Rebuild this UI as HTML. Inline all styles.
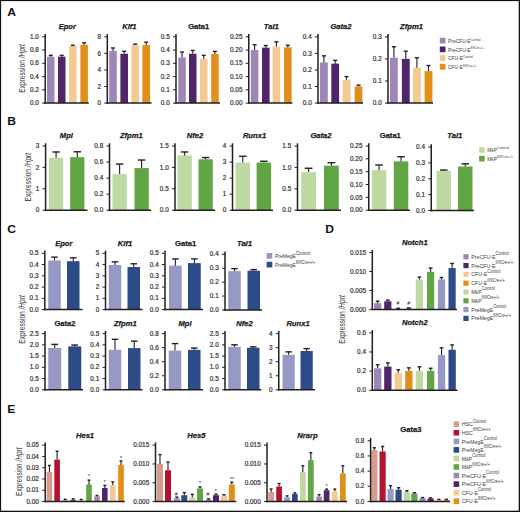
<!DOCTYPE html>
<html><head><meta charset="utf-8"><title>Figure</title>
<style>
html,body{margin:0;padding:0;background:#fff;}
body{width:520px;height:512px;overflow:hidden;font-family:"Liberation Sans",sans-serif;}
svg{display:block;}
</style></head><body>
<svg width="520" height="512" viewBox="0 0 520 512"><rect width="520" height="512" fill="#fff"/><text transform="translate(7.3 16.3) scale(1.1 1)" font-size="11" font-weight="bold" fill="#111" font-family="Liberation Sans">A</text><rect x="47" y="56.69" width="7.5" height="46.41" fill="#9d87b6"/><line x1="50.75" y1="56.69" x2="50.75" y2="55.36" stroke="#231f20" stroke-width="1.1"/><line x1="48.8" y1="55.36" x2="52.7" y2="55.36" stroke="#231f20" stroke-width="1.4"/><rect x="58" y="56.69" width="7.5" height="46.41" fill="#4f2468"/><line x1="61.75" y1="56.69" x2="61.75" y2="55.36" stroke="#231f20" stroke-width="1.1"/><line x1="59.8" y1="55.36" x2="63.7" y2="55.36" stroke="#231f20" stroke-width="1.4"/><rect x="69.1" y="46.08" width="7.5" height="57.02" fill="#f2ca92"/><line x1="72.85" y1="46.08" x2="72.85" y2="45.29" stroke="#231f20" stroke-width="1.1"/><line x1="70.9" y1="45.29" x2="74.8" y2="45.29" stroke="#231f20" stroke-width="1.4"/><rect x="80.4" y="44.76" width="7.5" height="58.34" fill="#e18e1a"/><line x1="84.15" y1="44.76" x2="84.15" y2="42.77" stroke="#231f20" stroke-width="1.1"/><line x1="82.2" y1="42.77" x2="86.1" y2="42.77" stroke="#231f20" stroke-width="1.4"/><line x1="45.2" y1="34.1" x2="45.2" y2="103.8" stroke="#231f20" stroke-width="1.5"/><line x1="44.5" y1="103.1" x2="88.8" y2="103.1" stroke="#231f20" stroke-width="1.5"/><line x1="42.2" y1="103.1" x2="45.2" y2="103.1" stroke="#231f20" stroke-width="1"/><text transform="translate(38.9 105.25) scale(1 1)" font-size="6.4" text-anchor="end" fill="#2c2c2c" font-family="Liberation Sans" stroke="#2c2c2c" stroke-width="0.18">0.0</text><line x1="42.2" y1="89.84" x2="45.2" y2="89.84" stroke="#231f20" stroke-width="1"/><text transform="translate(38.9 91.99) scale(1 1)" font-size="6.4" text-anchor="end" fill="#2c2c2c" font-family="Liberation Sans" stroke="#2c2c2c" stroke-width="0.18">0.2</text><line x1="42.2" y1="76.58" x2="45.2" y2="76.58" stroke="#231f20" stroke-width="1"/><text transform="translate(38.9 78.73) scale(1 1)" font-size="6.4" text-anchor="end" fill="#2c2c2c" font-family="Liberation Sans" stroke="#2c2c2c" stroke-width="0.18">0.4</text><line x1="42.2" y1="63.32" x2="45.2" y2="63.32" stroke="#231f20" stroke-width="1"/><text transform="translate(38.9 65.47) scale(1 1)" font-size="6.4" text-anchor="end" fill="#2c2c2c" font-family="Liberation Sans" stroke="#2c2c2c" stroke-width="0.18">0.6</text><line x1="42.2" y1="50.06" x2="45.2" y2="50.06" stroke="#231f20" stroke-width="1"/><text transform="translate(38.9 52.21) scale(1 1)" font-size="6.4" text-anchor="end" fill="#2c2c2c" font-family="Liberation Sans" stroke="#2c2c2c" stroke-width="0.18">0.8</text><line x1="42.2" y1="36.8" x2="45.2" y2="36.8" stroke="#231f20" stroke-width="1"/><text transform="translate(38.9 38.95) scale(1 1)" font-size="6.4" text-anchor="end" fill="#2c2c2c" font-family="Liberation Sans" stroke="#2c2c2c" stroke-width="0.18">1.0</text><text x="67.3" y="28.8" font-size="7.6" text-anchor="middle" font-weight="bold" font-style="italic" fill="#1a1a1a" font-family="Liberation Sans" stroke="#1a1a1a" stroke-width="0.25">Epor</text><rect x="109.2" y="50.89" width="7.6" height="52.21" fill="#9d87b6"/><line x1="113" y1="50.89" x2="113" y2="47.99" stroke="#231f20" stroke-width="1.1"/><line x1="111.02" y1="47.99" x2="114.98" y2="47.99" stroke="#231f20" stroke-width="1.4"/><rect x="120.4" y="53.79" width="7.6" height="49.31" fill="#4f2468"/><line x1="124.2" y1="53.79" x2="124.2" y2="51.3" stroke="#231f20" stroke-width="1.1"/><line x1="122.22" y1="51.3" x2="126.18" y2="51.3" stroke="#231f20" stroke-width="1.4"/><rect x="131.4" y="45.09" width="7.6" height="58.01" fill="#f2ca92"/><line x1="135.2" y1="45.09" x2="135.2" y2="44.09" stroke="#231f20" stroke-width="1.1"/><line x1="133.22" y1="44.09" x2="137.18" y2="44.09" stroke="#231f20" stroke-width="1.4"/><rect x="142.4" y="45.09" width="7.6" height="58.01" fill="#e18e1a"/><line x1="146.2" y1="45.09" x2="146.2" y2="42.19" stroke="#231f20" stroke-width="1.1"/><line x1="144.22" y1="42.19" x2="148.18" y2="42.19" stroke="#231f20" stroke-width="1.4"/><line x1="107.3" y1="34.1" x2="107.3" y2="103.8" stroke="#231f20" stroke-width="1.5"/><line x1="106.6" y1="103.1" x2="151.5" y2="103.1" stroke="#231f20" stroke-width="1.5"/><line x1="104.3" y1="103.1" x2="107.3" y2="103.1" stroke="#231f20" stroke-width="1"/><text transform="translate(101 105.25) scale(1 1)" font-size="6.4" text-anchor="end" fill="#2c2c2c" font-family="Liberation Sans" stroke="#2c2c2c" stroke-width="0.18">0</text><line x1="104.3" y1="86.52" x2="107.3" y2="86.52" stroke="#231f20" stroke-width="1"/><text transform="translate(101 88.67) scale(1 1)" font-size="6.4" text-anchor="end" fill="#2c2c2c" font-family="Liberation Sans" stroke="#2c2c2c" stroke-width="0.18">2</text><line x1="104.3" y1="69.95" x2="107.3" y2="69.95" stroke="#231f20" stroke-width="1"/><text transform="translate(101 72.1) scale(1 1)" font-size="6.4" text-anchor="end" fill="#2c2c2c" font-family="Liberation Sans" stroke="#2c2c2c" stroke-width="0.18">4</text><line x1="104.3" y1="53.38" x2="107.3" y2="53.38" stroke="#231f20" stroke-width="1"/><text transform="translate(101 55.52) scale(1 1)" font-size="6.4" text-anchor="end" fill="#2c2c2c" font-family="Liberation Sans" stroke="#2c2c2c" stroke-width="0.18">6</text><line x1="104.3" y1="36.8" x2="107.3" y2="36.8" stroke="#231f20" stroke-width="1"/><text transform="translate(101 38.95) scale(1 1)" font-size="6.4" text-anchor="end" fill="#2c2c2c" font-family="Liberation Sans" stroke="#2c2c2c" stroke-width="0.18">8</text><text x="129.4" y="28.8" font-size="7.6" text-anchor="middle" font-weight="bold" font-style="italic" fill="#1a1a1a" font-family="Liberation Sans" stroke="#1a1a1a" stroke-width="0.25">Klf1</text><rect x="178.3" y="57.35" width="7.5" height="45.75" fill="#9d87b6"/><line x1="182.05" y1="57.35" x2="182.05" y2="52.05" stroke="#231f20" stroke-width="1.1"/><line x1="180.1" y1="52.05" x2="184" y2="52.05" stroke="#231f20" stroke-width="1.4"/><rect x="189" y="53.77" width="7.5" height="49.33" fill="#4f2468"/><line x1="192.75" y1="53.77" x2="192.75" y2="50.46" stroke="#231f20" stroke-width="1.1"/><line x1="190.8" y1="50.46" x2="194.7" y2="50.46" stroke="#231f20" stroke-width="1.4"/><rect x="200" y="58.68" width="7.5" height="44.42" fill="#f2ca92"/><line x1="203.75" y1="58.68" x2="203.75" y2="55.36" stroke="#231f20" stroke-width="1.1"/><line x1="201.8" y1="55.36" x2="205.7" y2="55.36" stroke="#231f20" stroke-width="1.4"/><rect x="211.2" y="54.04" width="7.5" height="49.06" fill="#e18e1a"/><line x1="214.95" y1="54.04" x2="214.95" y2="51.39" stroke="#231f20" stroke-width="1.1"/><line x1="213" y1="51.39" x2="216.9" y2="51.39" stroke="#231f20" stroke-width="1.4"/><line x1="176" y1="34.1" x2="176" y2="103.8" stroke="#231f20" stroke-width="1.5"/><line x1="175.3" y1="103.1" x2="220" y2="103.1" stroke="#231f20" stroke-width="1.5"/><line x1="173" y1="103.1" x2="176" y2="103.1" stroke="#231f20" stroke-width="1"/><text transform="translate(169.7 105.25) scale(1 1)" font-size="6.4" text-anchor="end" fill="#2c2c2c" font-family="Liberation Sans" stroke="#2c2c2c" stroke-width="0.18">0.0</text><line x1="173" y1="89.84" x2="176" y2="89.84" stroke="#231f20" stroke-width="1"/><text transform="translate(169.7 91.99) scale(1 1)" font-size="6.4" text-anchor="end" fill="#2c2c2c" font-family="Liberation Sans" stroke="#2c2c2c" stroke-width="0.18">0.1</text><line x1="173" y1="76.58" x2="176" y2="76.58" stroke="#231f20" stroke-width="1"/><text transform="translate(169.7 78.73) scale(1 1)" font-size="6.4" text-anchor="end" fill="#2c2c2c" font-family="Liberation Sans" stroke="#2c2c2c" stroke-width="0.18">0.2</text><line x1="173" y1="63.32" x2="176" y2="63.32" stroke="#231f20" stroke-width="1"/><text transform="translate(169.7 65.47) scale(1 1)" font-size="6.4" text-anchor="end" fill="#2c2c2c" font-family="Liberation Sans" stroke="#2c2c2c" stroke-width="0.18">0.3</text><line x1="173" y1="50.06" x2="176" y2="50.06" stroke="#231f20" stroke-width="1"/><text transform="translate(169.7 52.21) scale(1 1)" font-size="6.4" text-anchor="end" fill="#2c2c2c" font-family="Liberation Sans" stroke="#2c2c2c" stroke-width="0.18">0.4</text><line x1="173" y1="36.8" x2="176" y2="36.8" stroke="#231f20" stroke-width="1"/><text transform="translate(169.7 38.95) scale(1 1)" font-size="6.4" text-anchor="end" fill="#2c2c2c" font-family="Liberation Sans" stroke="#2c2c2c" stroke-width="0.18">0.5</text><text x="198.7" y="28.8" font-size="7.6" text-anchor="middle" font-weight="bold" font-style="normal" fill="#1a1a1a" font-family="Liberation Sans" stroke="#1a1a1a" stroke-width="0.25">Gata1</text><rect x="250.8" y="50.06" width="7.6" height="53.04" fill="#9d87b6"/><line x1="254.6" y1="50.06" x2="254.6" y2="44.76" stroke="#231f20" stroke-width="1.1"/><line x1="252.62" y1="44.76" x2="256.58" y2="44.76" stroke="#231f20" stroke-width="1.4"/><rect x="262" y="47.67" width="7.6" height="55.43" fill="#4f2468"/><line x1="265.8" y1="47.67" x2="265.8" y2="45.55" stroke="#231f20" stroke-width="1.1"/><line x1="263.82" y1="45.55" x2="267.78" y2="45.55" stroke="#231f20" stroke-width="1.4"/><rect x="272.6" y="46.61" width="7.6" height="56.49" fill="#f2ca92"/><line x1="276.4" y1="46.61" x2="276.4" y2="41.84" stroke="#231f20" stroke-width="1.1"/><line x1="274.42" y1="41.84" x2="278.38" y2="41.84" stroke="#231f20" stroke-width="1.4"/><rect x="284" y="47.41" width="7.6" height="55.69" fill="#e18e1a"/><line x1="287.8" y1="47.41" x2="287.8" y2="45.29" stroke="#231f20" stroke-width="1.1"/><line x1="285.82" y1="45.29" x2="289.78" y2="45.29" stroke="#231f20" stroke-width="1.4"/><line x1="248.75" y1="34.1" x2="248.75" y2="103.8" stroke="#231f20" stroke-width="1.5"/><line x1="248.05" y1="103.1" x2="292.3" y2="103.1" stroke="#231f20" stroke-width="1.5"/><line x1="245.75" y1="103.1" x2="248.75" y2="103.1" stroke="#231f20" stroke-width="1"/><text transform="translate(242.45 105.25) scale(1 1)" font-size="6.4" text-anchor="end" fill="#2c2c2c" font-family="Liberation Sans" stroke="#2c2c2c" stroke-width="0.18">0.00</text><line x1="245.75" y1="89.84" x2="248.75" y2="89.84" stroke="#231f20" stroke-width="1"/><text transform="translate(242.45 91.99) scale(1 1)" font-size="6.4" text-anchor="end" fill="#2c2c2c" font-family="Liberation Sans" stroke="#2c2c2c" stroke-width="0.18">0.05</text><line x1="245.75" y1="76.58" x2="248.75" y2="76.58" stroke="#231f20" stroke-width="1"/><text transform="translate(242.45 78.73) scale(1 1)" font-size="6.4" text-anchor="end" fill="#2c2c2c" font-family="Liberation Sans" stroke="#2c2c2c" stroke-width="0.18">0.10</text><line x1="245.75" y1="63.32" x2="248.75" y2="63.32" stroke="#231f20" stroke-width="1"/><text transform="translate(242.45 65.47) scale(1 1)" font-size="6.4" text-anchor="end" fill="#2c2c2c" font-family="Liberation Sans" stroke="#2c2c2c" stroke-width="0.18">0.15</text><line x1="245.75" y1="50.06" x2="248.75" y2="50.06" stroke="#231f20" stroke-width="1"/><text transform="translate(242.45 52.21) scale(1 1)" font-size="6.4" text-anchor="end" fill="#2c2c2c" font-family="Liberation Sans" stroke="#2c2c2c" stroke-width="0.18">0.20</text><line x1="245.75" y1="36.8" x2="248.75" y2="36.8" stroke="#231f20" stroke-width="1"/><text transform="translate(242.45 38.95) scale(1 1)" font-size="6.4" text-anchor="end" fill="#2c2c2c" font-family="Liberation Sans" stroke="#2c2c2c" stroke-width="0.18">0.25</text><text x="271.3" y="28.8" font-size="7.6" text-anchor="middle" font-weight="bold" font-style="italic" fill="#1a1a1a" font-family="Liberation Sans" stroke="#1a1a1a" stroke-width="0.25">Tal1</text><rect x="320" y="62.49" width="7.8" height="40.61" fill="#9d87b6"/><line x1="323.9" y1="62.49" x2="323.9" y2="55.86" stroke="#231f20" stroke-width="1.1"/><line x1="321.87" y1="55.86" x2="325.93" y2="55.86" stroke="#231f20" stroke-width="1.4"/><rect x="331.3" y="63.65" width="7.8" height="39.45" fill="#4f2468"/><line x1="335.2" y1="63.65" x2="335.2" y2="60.34" stroke="#231f20" stroke-width="1.1"/><line x1="333.17" y1="60.34" x2="337.23" y2="60.34" stroke="#231f20" stroke-width="1.4"/><rect x="342.6" y="79.89" width="7.8" height="23.2" fill="#f2ca92"/><line x1="346.5" y1="79.89" x2="346.5" y2="76.58" stroke="#231f20" stroke-width="1.1"/><line x1="344.47" y1="76.58" x2="348.53" y2="76.58" stroke="#231f20" stroke-width="1.4"/><rect x="354.6" y="86.52" width="7.8" height="16.58" fill="#e18e1a"/><line x1="358.5" y1="86.52" x2="358.5" y2="85.2" stroke="#231f20" stroke-width="1.1"/><line x1="356.47" y1="85.2" x2="360.53" y2="85.2" stroke="#231f20" stroke-width="1.4"/><line x1="318" y1="34.1" x2="318" y2="103.8" stroke="#231f20" stroke-width="1.5"/><line x1="317.3" y1="103.1" x2="363" y2="103.1" stroke="#231f20" stroke-width="1.5"/><line x1="315" y1="103.1" x2="318" y2="103.1" stroke="#231f20" stroke-width="1"/><text transform="translate(311.7 105.25) scale(1 1)" font-size="6.4" text-anchor="end" fill="#2c2c2c" font-family="Liberation Sans" stroke="#2c2c2c" stroke-width="0.18">0.0</text><line x1="315" y1="86.52" x2="318" y2="86.52" stroke="#231f20" stroke-width="1"/><text transform="translate(311.7 88.67) scale(1 1)" font-size="6.4" text-anchor="end" fill="#2c2c2c" font-family="Liberation Sans" stroke="#2c2c2c" stroke-width="0.18">0.1</text><line x1="315" y1="69.95" x2="318" y2="69.95" stroke="#231f20" stroke-width="1"/><text transform="translate(311.7 72.1) scale(1 1)" font-size="6.4" text-anchor="end" fill="#2c2c2c" font-family="Liberation Sans" stroke="#2c2c2c" stroke-width="0.18">0.2</text><line x1="315" y1="53.38" x2="318" y2="53.38" stroke="#231f20" stroke-width="1"/><text transform="translate(311.7 55.53) scale(1 1)" font-size="6.4" text-anchor="end" fill="#2c2c2c" font-family="Liberation Sans" stroke="#2c2c2c" stroke-width="0.18">0.3</text><line x1="315" y1="36.8" x2="318" y2="36.8" stroke="#231f20" stroke-width="1"/><text transform="translate(311.7 38.95) scale(1 1)" font-size="6.4" text-anchor="end" fill="#2c2c2c" font-family="Liberation Sans" stroke="#2c2c2c" stroke-width="0.18">0.4</text><text x="341" y="28.8" font-size="7.6" text-anchor="middle" font-weight="bold" font-style="italic" fill="#1a1a1a" font-family="Liberation Sans" stroke="#1a1a1a" stroke-width="0.25">Gata2</text><rect x="390" y="57.79" width="7.8" height="45.3" fill="#9d87b6"/><line x1="393.9" y1="57.79" x2="393.9" y2="46.74" stroke="#231f20" stroke-width="1.1"/><line x1="391.87" y1="46.74" x2="395.93" y2="46.74" stroke="#231f20" stroke-width="1.4"/><rect x="401.9" y="58.9" width="7.8" height="44.2" fill="#4f2468"/><line x1="405.8" y1="58.9" x2="405.8" y2="51.16" stroke="#231f20" stroke-width="1.1"/><line x1="403.77" y1="51.16" x2="407.83" y2="51.16" stroke="#231f20" stroke-width="1.4"/><rect x="413" y="67.74" width="7.8" height="35.36" fill="#f2ca92"/><line x1="416.9" y1="67.74" x2="416.9" y2="57.79" stroke="#231f20" stroke-width="1.1"/><line x1="414.87" y1="57.79" x2="418.93" y2="57.79" stroke="#231f20" stroke-width="1.4"/><rect x="424.6" y="71.06" width="7.8" height="32.04" fill="#e18e1a"/><line x1="428.5" y1="71.06" x2="428.5" y2="65.53" stroke="#231f20" stroke-width="1.1"/><line x1="426.47" y1="65.53" x2="430.53" y2="65.53" stroke="#231f20" stroke-width="1.4"/><line x1="388" y1="34.1" x2="388" y2="103.8" stroke="#231f20" stroke-width="1.5"/><line x1="387.3" y1="103.1" x2="433" y2="103.1" stroke="#231f20" stroke-width="1.5"/><line x1="385" y1="103.1" x2="388" y2="103.1" stroke="#231f20" stroke-width="1"/><text transform="translate(381.7 105.25) scale(1 1)" font-size="6.4" text-anchor="end" fill="#2c2c2c" font-family="Liberation Sans" stroke="#2c2c2c" stroke-width="0.18">0.0</text><line x1="385" y1="81" x2="388" y2="81" stroke="#231f20" stroke-width="1"/><text transform="translate(381.7 83.15) scale(1 1)" font-size="6.4" text-anchor="end" fill="#2c2c2c" font-family="Liberation Sans" stroke="#2c2c2c" stroke-width="0.18">0.1</text><line x1="385" y1="58.9" x2="388" y2="58.9" stroke="#231f20" stroke-width="1"/><text transform="translate(381.7 61.05) scale(1 1)" font-size="6.4" text-anchor="end" fill="#2c2c2c" font-family="Liberation Sans" stroke="#2c2c2c" stroke-width="0.18">0.2</text><line x1="385" y1="36.8" x2="388" y2="36.8" stroke="#231f20" stroke-width="1"/><text transform="translate(381.7 38.95) scale(1 1)" font-size="6.4" text-anchor="end" fill="#2c2c2c" font-family="Liberation Sans" stroke="#2c2c2c" stroke-width="0.18">0.3</text><text x="411.5" y="28.8" font-size="7.6" text-anchor="middle" font-weight="bold" font-style="italic" fill="#1a1a1a" font-family="Liberation Sans" stroke="#1a1a1a" stroke-width="0.25">Zfpm1</text><text transform="translate(24.9 68.4) rotate(-90)" font-size="8.6" text-anchor="middle" fill="#3a3a3a" font-family="Liberation Sans" textLength="48.5" lengthAdjust="spacingAndGlyphs">Expression <tspan font-style="italic">/Hprt</tspan></text><rect x="439.8" y="37.8" width="5.7" height="5.7" fill="#9d87b6"/><text transform="translate(448.1 42.9) scale(0.87 1)" font-size="5.6" fill="#3a3a3a" font-family="Liberation Sans">PreCFU-E<tspan font-size="3.6" dy="-2.4">Control</tspan></text><rect x="439.8" y="46.5" width="5.7" height="5.7" fill="#4f2468"/><text transform="translate(448.1 51.6) scale(0.87 1)" font-size="5.6" fill="#3a3a3a" font-family="Liberation Sans">PreCFU-E<tspan font-size="3.6" dy="-2.4">fl/flCre+/+</tspan></text><rect x="439.8" y="55.2" width="5.7" height="5.7" fill="#f2ca92"/><text transform="translate(448.1 60.3) scale(0.87 1)" font-size="5.6" fill="#3a3a3a" font-family="Liberation Sans">CFU-E<tspan font-size="3.6" dy="-2.4">Control</tspan></text><rect x="439.8" y="63.9" width="5.7" height="5.7" fill="#e18e1a"/><text transform="translate(448.1 69) scale(0.87 1)" font-size="5.6" fill="#3a3a3a" font-family="Liberation Sans">CFU-E<tspan font-size="3.6" dy="-2.4">fl/flCre+/+</tspan></text><text transform="translate(7.3 125.2) scale(1.1 1)" font-size="11" font-weight="bold" fill="#111" font-family="Liberation Sans">B</text><rect x="49" y="157.77" width="14.2" height="52.43" fill="#bfd9a2"/><line x1="56.1" y1="157.77" x2="56.1" y2="151.99" stroke="#231f20" stroke-width="1.1"/><line x1="52.41" y1="151.99" x2="59.79" y2="151.99" stroke="#231f20" stroke-width="1.4"/><rect x="70.2" y="157.13" width="14.2" height="53.07" fill="#62a544"/><line x1="77.3" y1="157.13" x2="77.3" y2="151.78" stroke="#231f20" stroke-width="1.1"/><line x1="73.61" y1="151.78" x2="80.99" y2="151.78" stroke="#231f20" stroke-width="1.4"/><line x1="45.6" y1="143.3" x2="45.6" y2="210.9" stroke="#231f20" stroke-width="1.5"/><line x1="44.9" y1="210.2" x2="87.5" y2="210.2" stroke="#231f20" stroke-width="1.5"/><line x1="42.6" y1="210.2" x2="45.6" y2="210.2" stroke="#231f20" stroke-width="1"/><text transform="translate(39.3 212.35) scale(1 1)" font-size="6.4" text-anchor="end" fill="#2c2c2c" font-family="Liberation Sans" stroke="#2c2c2c" stroke-width="0.18">0</text><line x1="42.6" y1="188.8" x2="45.6" y2="188.8" stroke="#231f20" stroke-width="1"/><text transform="translate(39.3 190.95) scale(1 1)" font-size="6.4" text-anchor="end" fill="#2c2c2c" font-family="Liberation Sans" stroke="#2c2c2c" stroke-width="0.18">1</text><line x1="42.6" y1="167.4" x2="45.6" y2="167.4" stroke="#231f20" stroke-width="1"/><text transform="translate(39.3 169.55) scale(1 1)" font-size="6.4" text-anchor="end" fill="#2c2c2c" font-family="Liberation Sans" stroke="#2c2c2c" stroke-width="0.18">2</text><line x1="42.6" y1="146" x2="45.6" y2="146" stroke="#231f20" stroke-width="1"/><text transform="translate(39.3 148.15) scale(1 1)" font-size="6.4" text-anchor="end" fill="#2c2c2c" font-family="Liberation Sans" stroke="#2c2c2c" stroke-width="0.18">3</text><text x="66.4" y="138" font-size="7.6" text-anchor="middle" font-weight="bold" font-style="italic" fill="#1a1a1a" font-family="Liberation Sans" stroke="#1a1a1a" stroke-width="0.25">Mpl</text><rect x="112.5" y="174.09" width="14.25" height="36.11" fill="#bfd9a2"/><line x1="119.62" y1="174.09" x2="119.62" y2="164.06" stroke="#231f20" stroke-width="1.1"/><line x1="115.92" y1="164.06" x2="123.33" y2="164.06" stroke="#231f20" stroke-width="1.4"/><rect x="134.5" y="168.07" width="14.25" height="42.13" fill="#62a544"/><line x1="141.62" y1="168.07" x2="141.62" y2="160.04" stroke="#231f20" stroke-width="1.1"/><line x1="137.92" y1="160.04" x2="145.33" y2="160.04" stroke="#231f20" stroke-width="1.4"/><line x1="109.5" y1="143.3" x2="109.5" y2="210.9" stroke="#231f20" stroke-width="1.5"/><line x1="108.8" y1="210.2" x2="151" y2="210.2" stroke="#231f20" stroke-width="1.5"/><line x1="106.5" y1="210.2" x2="109.5" y2="210.2" stroke="#231f20" stroke-width="1"/><text transform="translate(103.2 212.35) scale(1 1)" font-size="6.4" text-anchor="end" fill="#2c2c2c" font-family="Liberation Sans" stroke="#2c2c2c" stroke-width="0.18">0.0</text><line x1="106.5" y1="194.15" x2="109.5" y2="194.15" stroke="#231f20" stroke-width="1"/><text transform="translate(103.2 196.3) scale(1 1)" font-size="6.4" text-anchor="end" fill="#2c2c2c" font-family="Liberation Sans" stroke="#2c2c2c" stroke-width="0.18">0.2</text><line x1="106.5" y1="178.1" x2="109.5" y2="178.1" stroke="#231f20" stroke-width="1"/><text transform="translate(103.2 180.25) scale(1 1)" font-size="6.4" text-anchor="end" fill="#2c2c2c" font-family="Liberation Sans" stroke="#2c2c2c" stroke-width="0.18">0.4</text><line x1="106.5" y1="162.05" x2="109.5" y2="162.05" stroke="#231f20" stroke-width="1"/><text transform="translate(103.2 164.2) scale(1 1)" font-size="6.4" text-anchor="end" fill="#2c2c2c" font-family="Liberation Sans" stroke="#2c2c2c" stroke-width="0.18">0.6</text><line x1="106.5" y1="146" x2="109.5" y2="146" stroke="#231f20" stroke-width="1"/><text transform="translate(103.2 148.15) scale(1 1)" font-size="6.4" text-anchor="end" fill="#2c2c2c" font-family="Liberation Sans" stroke="#2c2c2c" stroke-width="0.18">0.8</text><text x="131.3" y="138" font-size="7.6" text-anchor="middle" font-weight="bold" font-style="italic" fill="#1a1a1a" font-family="Liberation Sans" stroke="#1a1a1a" stroke-width="0.25">Zfpm1</text><rect x="177.5" y="155.42" width="14.25" height="54.78" fill="#bfd9a2"/><line x1="184.62" y1="155.42" x2="184.62" y2="151.99" stroke="#231f20" stroke-width="1.1"/><line x1="180.92" y1="151.99" x2="188.33" y2="151.99" stroke="#231f20" stroke-width="1.4"/><rect x="198.5" y="159.27" width="14.25" height="50.93" fill="#62a544"/><line x1="205.62" y1="159.27" x2="205.62" y2="157.56" stroke="#231f20" stroke-width="1.1"/><line x1="201.92" y1="157.56" x2="209.33" y2="157.56" stroke="#231f20" stroke-width="1.4"/><line x1="175" y1="143.3" x2="175" y2="210.9" stroke="#231f20" stroke-width="1.5"/><line x1="174.3" y1="210.2" x2="215" y2="210.2" stroke="#231f20" stroke-width="1.5"/><line x1="172" y1="210.2" x2="175" y2="210.2" stroke="#231f20" stroke-width="1"/><text transform="translate(168.7 212.35) scale(1 1)" font-size="6.4" text-anchor="end" fill="#2c2c2c" font-family="Liberation Sans" stroke="#2c2c2c" stroke-width="0.18">0.0</text><line x1="172" y1="188.8" x2="175" y2="188.8" stroke="#231f20" stroke-width="1"/><text transform="translate(168.7 190.95) scale(1 1)" font-size="6.4" text-anchor="end" fill="#2c2c2c" font-family="Liberation Sans" stroke="#2c2c2c" stroke-width="0.18">0.5</text><line x1="172" y1="167.4" x2="175" y2="167.4" stroke="#231f20" stroke-width="1"/><text transform="translate(168.7 169.55) scale(1 1)" font-size="6.4" text-anchor="end" fill="#2c2c2c" font-family="Liberation Sans" stroke="#2c2c2c" stroke-width="0.18">1.0</text><line x1="172" y1="146" x2="175" y2="146" stroke="#231f20" stroke-width="1"/><text transform="translate(168.7 148.15) scale(1 1)" font-size="6.4" text-anchor="end" fill="#2c2c2c" font-family="Liberation Sans" stroke="#2c2c2c" stroke-width="0.18">1.5</text><text x="195" y="138" font-size="7.6" text-anchor="middle" font-weight="bold" font-style="italic" fill="#1a1a1a" font-family="Liberation Sans" stroke="#1a1a1a" stroke-width="0.25">Nfe2</text><rect x="235.5" y="162.53" width="14.5" height="47.67" fill="#bfd9a2"/><line x1="242.75" y1="162.53" x2="242.75" y2="156.27" stroke="#231f20" stroke-width="1.1"/><line x1="238.98" y1="156.27" x2="246.52" y2="156.27" stroke="#231f20" stroke-width="1.4"/><rect x="256.6" y="162.53" width="14.5" height="47.67" fill="#62a544"/><line x1="263.85" y1="162.53" x2="263.85" y2="161.25" stroke="#231f20" stroke-width="1.1"/><line x1="260.08" y1="161.25" x2="267.62" y2="161.25" stroke="#231f20" stroke-width="1.4"/><line x1="232.5" y1="143.3" x2="232.5" y2="210.9" stroke="#231f20" stroke-width="1.5"/><line x1="231.8" y1="210.2" x2="273" y2="210.2" stroke="#231f20" stroke-width="1.5"/><line x1="229.5" y1="210.2" x2="232.5" y2="210.2" stroke="#231f20" stroke-width="1"/><text transform="translate(226.2 212.35) scale(1 1)" font-size="6.4" text-anchor="end" fill="#2c2c2c" font-family="Liberation Sans" stroke="#2c2c2c" stroke-width="0.18">0</text><line x1="229.5" y1="194.15" x2="232.5" y2="194.15" stroke="#231f20" stroke-width="1"/><text transform="translate(226.2 196.3) scale(1 1)" font-size="6.4" text-anchor="end" fill="#2c2c2c" font-family="Liberation Sans" stroke="#2c2c2c" stroke-width="0.18">1</text><line x1="229.5" y1="178.1" x2="232.5" y2="178.1" stroke="#231f20" stroke-width="1"/><text transform="translate(226.2 180.25) scale(1 1)" font-size="6.4" text-anchor="end" fill="#2c2c2c" font-family="Liberation Sans" stroke="#2c2c2c" stroke-width="0.18">2</text><line x1="229.5" y1="162.05" x2="232.5" y2="162.05" stroke="#231f20" stroke-width="1"/><text transform="translate(226.2 164.2) scale(1 1)" font-size="6.4" text-anchor="end" fill="#2c2c2c" font-family="Liberation Sans" stroke="#2c2c2c" stroke-width="0.18">3</text><line x1="229.5" y1="146" x2="232.5" y2="146" stroke="#231f20" stroke-width="1"/><text transform="translate(226.2 148.15) scale(1 1)" font-size="6.4" text-anchor="end" fill="#2c2c2c" font-family="Liberation Sans" stroke="#2c2c2c" stroke-width="0.18">4</text><text x="254.5" y="138" font-size="7.6" text-anchor="middle" font-weight="bold" font-style="italic" fill="#1a1a1a" font-family="Liberation Sans" stroke="#1a1a1a" stroke-width="0.25">Runx1</text><rect x="301.2" y="172.11" width="14.75" height="38.09" fill="#bfd9a2"/><line x1="308.57" y1="172.11" x2="308.57" y2="168.26" stroke="#231f20" stroke-width="1.1"/><line x1="304.74" y1="168.26" x2="312.41" y2="168.26" stroke="#231f20" stroke-width="1.4"/><rect x="324" y="165.69" width="14.75" height="44.51" fill="#62a544"/><line x1="331.38" y1="165.69" x2="331.38" y2="162.69" stroke="#231f20" stroke-width="1.1"/><line x1="327.54" y1="162.69" x2="335.21" y2="162.69" stroke="#231f20" stroke-width="1.4"/><line x1="297.5" y1="143.3" x2="297.5" y2="210.9" stroke="#231f20" stroke-width="1.5"/><line x1="296.8" y1="210.2" x2="341" y2="210.2" stroke="#231f20" stroke-width="1.5"/><line x1="294.5" y1="210.2" x2="297.5" y2="210.2" stroke="#231f20" stroke-width="1"/><text transform="translate(291.2 212.35) scale(1 1)" font-size="6.4" text-anchor="end" fill="#2c2c2c" font-family="Liberation Sans" stroke="#2c2c2c" stroke-width="0.18">0.0</text><line x1="294.5" y1="188.8" x2="297.5" y2="188.8" stroke="#231f20" stroke-width="1"/><text transform="translate(291.2 190.95) scale(1 1)" font-size="6.4" text-anchor="end" fill="#2c2c2c" font-family="Liberation Sans" stroke="#2c2c2c" stroke-width="0.18">0.5</text><line x1="294.5" y1="167.4" x2="297.5" y2="167.4" stroke="#231f20" stroke-width="1"/><text transform="translate(291.2 169.55) scale(1 1)" font-size="6.4" text-anchor="end" fill="#2c2c2c" font-family="Liberation Sans" stroke="#2c2c2c" stroke-width="0.18">1.0</text><line x1="294.5" y1="146" x2="297.5" y2="146" stroke="#231f20" stroke-width="1"/><text transform="translate(291.2 148.15) scale(1 1)" font-size="6.4" text-anchor="end" fill="#2c2c2c" font-family="Liberation Sans" stroke="#2c2c2c" stroke-width="0.18">1.5</text><text x="321" y="138" font-size="7.6" text-anchor="middle" font-weight="bold" font-style="italic" fill="#1a1a1a" font-family="Liberation Sans" stroke="#1a1a1a" stroke-width="0.25">Gata2</text><rect x="371.8" y="170.14" width="14.5" height="40.06" fill="#bfd9a2"/><line x1="379.05" y1="170.14" x2="379.05" y2="165" stroke="#231f20" stroke-width="1.1"/><line x1="375.28" y1="165" x2="382.82" y2="165" stroke="#231f20" stroke-width="1.4"/><rect x="393.8" y="161.41" width="14.5" height="48.79" fill="#62a544"/><line x1="401.05" y1="161.41" x2="401.05" y2="156.79" stroke="#231f20" stroke-width="1.1"/><line x1="397.28" y1="156.79" x2="404.82" y2="156.79" stroke="#231f20" stroke-width="1.4"/><line x1="368.75" y1="143.3" x2="368.75" y2="210.9" stroke="#231f20" stroke-width="1.5"/><line x1="368.05" y1="210.2" x2="410" y2="210.2" stroke="#231f20" stroke-width="1.5"/><line x1="365.75" y1="210.2" x2="368.75" y2="210.2" stroke="#231f20" stroke-width="1"/><text transform="translate(362.45 212.35) scale(1 1)" font-size="6.4" text-anchor="end" fill="#2c2c2c" font-family="Liberation Sans" stroke="#2c2c2c" stroke-width="0.18">0.00</text><line x1="365.75" y1="197.36" x2="368.75" y2="197.36" stroke="#231f20" stroke-width="1"/><text transform="translate(362.45 199.51) scale(1 1)" font-size="6.4" text-anchor="end" fill="#2c2c2c" font-family="Liberation Sans" stroke="#2c2c2c" stroke-width="0.18">0.05</text><line x1="365.75" y1="184.52" x2="368.75" y2="184.52" stroke="#231f20" stroke-width="1"/><text transform="translate(362.45 186.67) scale(1 1)" font-size="6.4" text-anchor="end" fill="#2c2c2c" font-family="Liberation Sans" stroke="#2c2c2c" stroke-width="0.18">0.10</text><line x1="365.75" y1="171.68" x2="368.75" y2="171.68" stroke="#231f20" stroke-width="1"/><text transform="translate(362.45 173.83) scale(1 1)" font-size="6.4" text-anchor="end" fill="#2c2c2c" font-family="Liberation Sans" stroke="#2c2c2c" stroke-width="0.18">0.15</text><line x1="365.75" y1="158.84" x2="368.75" y2="158.84" stroke="#231f20" stroke-width="1"/><text transform="translate(362.45 160.99) scale(1 1)" font-size="6.4" text-anchor="end" fill="#2c2c2c" font-family="Liberation Sans" stroke="#2c2c2c" stroke-width="0.18">0.20</text><line x1="365.75" y1="146" x2="368.75" y2="146" stroke="#231f20" stroke-width="1"/><text transform="translate(362.45 148.15) scale(1 1)" font-size="6.4" text-anchor="end" fill="#2c2c2c" font-family="Liberation Sans" stroke="#2c2c2c" stroke-width="0.18">0.25</text><text x="390.3" y="138" font-size="7.6" text-anchor="middle" font-weight="bold" font-style="normal" fill="#1a1a1a" font-family="Liberation Sans" stroke="#1a1a1a" stroke-width="0.25">Gata1</text><rect x="436.5" y="170.81" width="14.5" height="39.69" fill="#bfd9a2"/><line x1="443.75" y1="170.81" x2="443.75" y2="170.02" stroke="#231f20" stroke-width="1.1"/><line x1="439.98" y1="170.02" x2="447.52" y2="170.02" stroke="#231f20" stroke-width="1.4"/><rect x="458" y="166.53" width="14.5" height="43.97" fill="#62a544"/><line x1="465.25" y1="166.53" x2="465.25" y2="163.83" stroke="#231f20" stroke-width="1.1"/><line x1="461.48" y1="163.83" x2="469.02" y2="163.83" stroke="#231f20" stroke-width="1.4"/><line x1="431.25" y1="144.3" x2="431.25" y2="211.2" stroke="#231f20" stroke-width="1.5"/><line x1="430.55" y1="210.5" x2="474" y2="210.5" stroke="#231f20" stroke-width="1.5"/><line x1="428.25" y1="210.5" x2="431.25" y2="210.5" stroke="#231f20" stroke-width="1"/><text transform="translate(424.95 212.65) scale(1 1)" font-size="6.4" text-anchor="end" fill="#2c2c2c" font-family="Liberation Sans" stroke="#2c2c2c" stroke-width="0.18">0.0</text><line x1="428.25" y1="194.62" x2="431.25" y2="194.62" stroke="#231f20" stroke-width="1"/><text transform="translate(424.95 196.78) scale(1 1)" font-size="6.4" text-anchor="end" fill="#2c2c2c" font-family="Liberation Sans" stroke="#2c2c2c" stroke-width="0.18">0.1</text><line x1="428.25" y1="178.75" x2="431.25" y2="178.75" stroke="#231f20" stroke-width="1"/><text transform="translate(424.95 180.9) scale(1 1)" font-size="6.4" text-anchor="end" fill="#2c2c2c" font-family="Liberation Sans" stroke="#2c2c2c" stroke-width="0.18">0.2</text><line x1="428.25" y1="162.88" x2="431.25" y2="162.88" stroke="#231f20" stroke-width="1"/><text transform="translate(424.95 165.03) scale(1 1)" font-size="6.4" text-anchor="end" fill="#2c2c2c" font-family="Liberation Sans" stroke="#2c2c2c" stroke-width="0.18">0.3</text><line x1="428.25" y1="147" x2="431.25" y2="147" stroke="#231f20" stroke-width="1"/><text transform="translate(424.95 149.15) scale(1 1)" font-size="6.4" text-anchor="end" fill="#2c2c2c" font-family="Liberation Sans" stroke="#2c2c2c" stroke-width="0.18">0.4</text><text x="454.8" y="138" font-size="7.6" text-anchor="middle" font-weight="bold" font-style="italic" fill="#1a1a1a" font-family="Liberation Sans" stroke="#1a1a1a" stroke-width="0.25">Tal1</text><text transform="translate(30.9 177.2) rotate(-90)" font-size="9.4" text-anchor="middle" fill="#3a3a3a" font-family="Liberation Sans" textLength="48.5" lengthAdjust="spacingAndGlyphs">Expression <tspan font-style="italic">/Hprt</tspan></text><rect x="479.1" y="147.2" width="5.6" height="5.6" fill="#bfd9a2"/><text transform="translate(487.3 152.2) scale(0.87 1)" font-size="5.6" fill="#3a3a3a" font-family="Liberation Sans">MkP<tspan font-size="4.3" dy="-2.8">Control</tspan></text><rect x="479.1" y="155.9" width="5.6" height="5.6" fill="#62a544"/><text transform="translate(487.3 160.9) scale(0.87 1)" font-size="5.6" fill="#3a3a3a" font-family="Liberation Sans">MkP<tspan font-size="4.3" dy="-2.8">fl/flCre+/+</tspan></text><text transform="translate(7.3 232.6) scale(1.1 1)" font-size="11" font-weight="bold" fill="#111" font-family="Liberation Sans">C</text><rect x="48.25" y="260.51" width="12.5" height="49.09" fill="#9599c4"/><line x1="54.5" y1="260.51" x2="54.5" y2="257.13" stroke="#231f20" stroke-width="1.1"/><line x1="51.25" y1="257.13" x2="57.75" y2="257.13" stroke="#231f20" stroke-width="1.4"/><rect x="67" y="261.18" width="12.5" height="48.42" fill="#2d4b86"/><line x1="73.25" y1="261.18" x2="73.25" y2="257.8" stroke="#231f20" stroke-width="1.1"/><line x1="70" y1="257.8" x2="76.5" y2="257.8" stroke="#231f20" stroke-width="1.4"/><line x1="44.8" y1="250.6" x2="44.8" y2="310.3" stroke="#231f20" stroke-width="1.5"/><line x1="44.1" y1="309.6" x2="82.5" y2="309.6" stroke="#231f20" stroke-width="1.5"/><line x1="41.8" y1="309.6" x2="44.8" y2="309.6" stroke="#231f20" stroke-width="1"/><text transform="translate(38.5 311.75) scale(1 1)" font-size="6.4" text-anchor="end" fill="#2c2c2c" font-family="Liberation Sans" stroke="#2c2c2c" stroke-width="0.18">0.0</text><line x1="41.8" y1="298.34" x2="44.8" y2="298.34" stroke="#231f20" stroke-width="1"/><text transform="translate(38.5 300.49) scale(1 1)" font-size="6.4" text-anchor="end" fill="#2c2c2c" font-family="Liberation Sans" stroke="#2c2c2c" stroke-width="0.18">0.1</text><line x1="41.8" y1="287.08" x2="44.8" y2="287.08" stroke="#231f20" stroke-width="1"/><text transform="translate(38.5 289.23) scale(1 1)" font-size="6.4" text-anchor="end" fill="#2c2c2c" font-family="Liberation Sans" stroke="#2c2c2c" stroke-width="0.18">0.2</text><line x1="41.8" y1="275.82" x2="44.8" y2="275.82" stroke="#231f20" stroke-width="1"/><text transform="translate(38.5 277.97) scale(1 1)" font-size="6.4" text-anchor="end" fill="#2c2c2c" font-family="Liberation Sans" stroke="#2c2c2c" stroke-width="0.18">0.3</text><line x1="41.8" y1="264.56" x2="44.8" y2="264.56" stroke="#231f20" stroke-width="1"/><text transform="translate(38.5 266.71) scale(1 1)" font-size="6.4" text-anchor="end" fill="#2c2c2c" font-family="Liberation Sans" stroke="#2c2c2c" stroke-width="0.18">0.4</text><line x1="41.8" y1="253.3" x2="44.8" y2="253.3" stroke="#231f20" stroke-width="1"/><text transform="translate(38.5 255.45) scale(1 1)" font-size="6.4" text-anchor="end" fill="#2c2c2c" font-family="Liberation Sans" stroke="#2c2c2c" stroke-width="0.18">0.5</text><text x="63.8" y="245.8" font-size="7.6" text-anchor="middle" font-weight="bold" font-style="italic" fill="#1a1a1a" font-family="Liberation Sans" stroke="#1a1a1a" stroke-width="0.25">Epor</text><rect x="108.75" y="265.01" width="12.5" height="44.59" fill="#9599c4"/><line x1="115" y1="265.01" x2="115" y2="261.86" stroke="#231f20" stroke-width="1.1"/><line x1="111.75" y1="261.86" x2="118.25" y2="261.86" stroke="#231f20" stroke-width="1.4"/><rect x="127.5" y="267.04" width="12.5" height="42.56" fill="#2d4b86"/><line x1="133.75" y1="267.04" x2="133.75" y2="263.77" stroke="#231f20" stroke-width="1.1"/><line x1="130.5" y1="263.77" x2="137" y2="263.77" stroke="#231f20" stroke-width="1.4"/><line x1="105.5" y1="250.6" x2="105.5" y2="310.3" stroke="#231f20" stroke-width="1.5"/><line x1="104.8" y1="309.6" x2="142.5" y2="309.6" stroke="#231f20" stroke-width="1.5"/><line x1="102.5" y1="309.6" x2="105.5" y2="309.6" stroke="#231f20" stroke-width="1"/><text transform="translate(99.2 311.75) scale(1 1)" font-size="6.4" text-anchor="end" fill="#2c2c2c" font-family="Liberation Sans" stroke="#2c2c2c" stroke-width="0.18">0</text><line x1="102.5" y1="298.34" x2="105.5" y2="298.34" stroke="#231f20" stroke-width="1"/><text transform="translate(99.2 300.49) scale(1 1)" font-size="6.4" text-anchor="end" fill="#2c2c2c" font-family="Liberation Sans" stroke="#2c2c2c" stroke-width="0.18">1</text><line x1="102.5" y1="287.08" x2="105.5" y2="287.08" stroke="#231f20" stroke-width="1"/><text transform="translate(99.2 289.23) scale(1 1)" font-size="6.4" text-anchor="end" fill="#2c2c2c" font-family="Liberation Sans" stroke="#2c2c2c" stroke-width="0.18">2</text><line x1="102.5" y1="275.82" x2="105.5" y2="275.82" stroke="#231f20" stroke-width="1"/><text transform="translate(99.2 277.97) scale(1 1)" font-size="6.4" text-anchor="end" fill="#2c2c2c" font-family="Liberation Sans" stroke="#2c2c2c" stroke-width="0.18">3</text><line x1="102.5" y1="264.56" x2="105.5" y2="264.56" stroke="#231f20" stroke-width="1"/><text transform="translate(99.2 266.71) scale(1 1)" font-size="6.4" text-anchor="end" fill="#2c2c2c" font-family="Liberation Sans" stroke="#2c2c2c" stroke-width="0.18">4</text><line x1="102.5" y1="253.3" x2="105.5" y2="253.3" stroke="#231f20" stroke-width="1"/><text transform="translate(99.2 255.45) scale(1 1)" font-size="6.4" text-anchor="end" fill="#2c2c2c" font-family="Liberation Sans" stroke="#2c2c2c" stroke-width="0.18">5</text><text x="125" y="245.8" font-size="7.6" text-anchor="middle" font-weight="bold" font-style="italic" fill="#1a1a1a" font-family="Liberation Sans" stroke="#1a1a1a" stroke-width="0.25">Klf1</text><rect x="169" y="265.69" width="12.75" height="43.91" fill="#9599c4"/><line x1="175.38" y1="265.69" x2="175.38" y2="258.93" stroke="#231f20" stroke-width="1.1"/><line x1="172.06" y1="258.93" x2="178.69" y2="258.93" stroke="#231f20" stroke-width="1.4"/><rect x="188" y="263.1" width="12.75" height="46.5" fill="#2d4b86"/><line x1="194.38" y1="263.1" x2="194.38" y2="258.93" stroke="#231f20" stroke-width="1.1"/><line x1="191.06" y1="258.93" x2="197.69" y2="258.93" stroke="#231f20" stroke-width="1.4"/><line x1="165" y1="250.6" x2="165" y2="310.3" stroke="#231f20" stroke-width="1.5"/><line x1="164.3" y1="309.6" x2="203" y2="309.6" stroke="#231f20" stroke-width="1.5"/><line x1="162" y1="309.6" x2="165" y2="309.6" stroke="#231f20" stroke-width="1"/><text transform="translate(158.7 311.75) scale(1 1)" font-size="6.4" text-anchor="end" fill="#2c2c2c" font-family="Liberation Sans" stroke="#2c2c2c" stroke-width="0.18">0.0</text><line x1="162" y1="298.34" x2="165" y2="298.34" stroke="#231f20" stroke-width="1"/><text transform="translate(158.7 300.49) scale(1 1)" font-size="6.4" text-anchor="end" fill="#2c2c2c" font-family="Liberation Sans" stroke="#2c2c2c" stroke-width="0.18">0.1</text><line x1="162" y1="287.08" x2="165" y2="287.08" stroke="#231f20" stroke-width="1"/><text transform="translate(158.7 289.23) scale(1 1)" font-size="6.4" text-anchor="end" fill="#2c2c2c" font-family="Liberation Sans" stroke="#2c2c2c" stroke-width="0.18">0.2</text><line x1="162" y1="275.82" x2="165" y2="275.82" stroke="#231f20" stroke-width="1"/><text transform="translate(158.7 277.97) scale(1 1)" font-size="6.4" text-anchor="end" fill="#2c2c2c" font-family="Liberation Sans" stroke="#2c2c2c" stroke-width="0.18">0.3</text><line x1="162" y1="264.56" x2="165" y2="264.56" stroke="#231f20" stroke-width="1"/><text transform="translate(158.7 266.71) scale(1 1)" font-size="6.4" text-anchor="end" fill="#2c2c2c" font-family="Liberation Sans" stroke="#2c2c2c" stroke-width="0.18">0.4</text><line x1="162" y1="253.3" x2="165" y2="253.3" stroke="#231f20" stroke-width="1"/><text transform="translate(158.7 255.45) scale(1 1)" font-size="6.4" text-anchor="end" fill="#2c2c2c" font-family="Liberation Sans" stroke="#2c2c2c" stroke-width="0.18">0.5</text><text x="185.6" y="245.8" font-size="7.6" text-anchor="middle" font-weight="bold" font-style="normal" fill="#1a1a1a" font-family="Liberation Sans" stroke="#1a1a1a" stroke-width="0.25">Gata1</text><rect x="228.25" y="271.15" width="12.5" height="38.85" fill="#9599c4"/><line x1="234.5" y1="271.15" x2="234.5" y2="268.64" stroke="#231f20" stroke-width="1.1"/><line x1="231.25" y1="268.64" x2="237.75" y2="268.64" stroke="#231f20" stroke-width="1.4"/><rect x="247.5" y="270.73" width="12.5" height="39.27" fill="#2d4b86"/><line x1="253.75" y1="270.73" x2="253.75" y2="269.62" stroke="#231f20" stroke-width="1.1"/><line x1="250.5" y1="269.62" x2="257" y2="269.62" stroke="#231f20" stroke-width="1.4"/><line x1="225" y1="251.6" x2="225" y2="310.7" stroke="#231f20" stroke-width="1.5"/><line x1="224.3" y1="310" x2="262" y2="310" stroke="#231f20" stroke-width="1.5"/><line x1="222" y1="310" x2="225" y2="310" stroke="#231f20" stroke-width="1"/><text transform="translate(218.7 312.15) scale(1 1)" font-size="6.4" text-anchor="end" fill="#2c2c2c" font-family="Liberation Sans" stroke="#2c2c2c" stroke-width="0.18">0.0</text><line x1="222" y1="296.07" x2="225" y2="296.07" stroke="#231f20" stroke-width="1"/><text transform="translate(218.7 298.22) scale(1 1)" font-size="6.4" text-anchor="end" fill="#2c2c2c" font-family="Liberation Sans" stroke="#2c2c2c" stroke-width="0.18">0.1</text><line x1="222" y1="282.15" x2="225" y2="282.15" stroke="#231f20" stroke-width="1"/><text transform="translate(218.7 284.3) scale(1 1)" font-size="6.4" text-anchor="end" fill="#2c2c2c" font-family="Liberation Sans" stroke="#2c2c2c" stroke-width="0.18">0.2</text><line x1="222" y1="268.23" x2="225" y2="268.23" stroke="#231f20" stroke-width="1"/><text transform="translate(218.7 270.38) scale(1 1)" font-size="6.4" text-anchor="end" fill="#2c2c2c" font-family="Liberation Sans" stroke="#2c2c2c" stroke-width="0.18">0.3</text><line x1="222" y1="254.3" x2="225" y2="254.3" stroke="#231f20" stroke-width="1"/><text transform="translate(218.7 256.45) scale(1 1)" font-size="6.4" text-anchor="end" fill="#2c2c2c" font-family="Liberation Sans" stroke="#2c2c2c" stroke-width="0.18">0.4</text><text x="244.5" y="245.8" font-size="7.6" text-anchor="middle" font-weight="bold" font-style="italic" fill="#1a1a1a" font-family="Liberation Sans" stroke="#1a1a1a" stroke-width="0.25">Tal1</text><rect x="48.25" y="347.99" width="13" height="41.81" fill="#9599c4"/><line x1="54.75" y1="347.99" x2="54.75" y2="344.39" stroke="#231f20" stroke-width="1.1"/><line x1="51.37" y1="344.39" x2="58.13" y2="344.39" stroke="#231f20" stroke-width="1.4"/><rect x="68.25" y="346.41" width="13" height="43.39" fill="#2d4b86"/><line x1="74.75" y1="346.41" x2="74.75" y2="345.06" stroke="#231f20" stroke-width="1.1"/><line x1="71.37" y1="345.06" x2="78.13" y2="345.06" stroke="#231f20" stroke-width="1.4"/><line x1="45" y1="330.9" x2="45" y2="390.5" stroke="#231f20" stroke-width="1.5"/><line x1="44.3" y1="389.8" x2="83" y2="389.8" stroke="#231f20" stroke-width="1.5"/><line x1="42" y1="389.8" x2="45" y2="389.8" stroke="#231f20" stroke-width="1"/><text transform="translate(38.7 391.95) scale(1 1)" font-size="6.4" text-anchor="end" fill="#2c2c2c" font-family="Liberation Sans" stroke="#2c2c2c" stroke-width="0.18">0.0</text><line x1="42" y1="378.56" x2="45" y2="378.56" stroke="#231f20" stroke-width="1"/><text transform="translate(38.7 380.71) scale(1 1)" font-size="6.4" text-anchor="end" fill="#2c2c2c" font-family="Liberation Sans" stroke="#2c2c2c" stroke-width="0.18">0.5</text><line x1="42" y1="367.32" x2="45" y2="367.32" stroke="#231f20" stroke-width="1"/><text transform="translate(38.7 369.47) scale(1 1)" font-size="6.4" text-anchor="end" fill="#2c2c2c" font-family="Liberation Sans" stroke="#2c2c2c" stroke-width="0.18">1.0</text><line x1="42" y1="356.08" x2="45" y2="356.08" stroke="#231f20" stroke-width="1"/><text transform="translate(38.7 358.23) scale(1 1)" font-size="6.4" text-anchor="end" fill="#2c2c2c" font-family="Liberation Sans" stroke="#2c2c2c" stroke-width="0.18">1.5</text><line x1="42" y1="344.84" x2="45" y2="344.84" stroke="#231f20" stroke-width="1"/><text transform="translate(38.7 346.99) scale(1 1)" font-size="6.4" text-anchor="end" fill="#2c2c2c" font-family="Liberation Sans" stroke="#2c2c2c" stroke-width="0.18">2.0</text><line x1="42" y1="333.6" x2="45" y2="333.6" stroke="#231f20" stroke-width="1"/><text transform="translate(38.7 335.75) scale(1 1)" font-size="6.4" text-anchor="end" fill="#2c2c2c" font-family="Liberation Sans" stroke="#2c2c2c" stroke-width="0.18">2.5</text><text x="65" y="325.6" font-size="7.6" text-anchor="middle" font-weight="bold" font-style="normal" fill="#1a1a1a" font-family="Liberation Sans" stroke="#1a1a1a" stroke-width="0.25">Gata2</text><rect x="108.75" y="349.79" width="12.5" height="40.01" fill="#9599c4"/><line x1="115" y1="349.79" x2="115" y2="339.33" stroke="#231f20" stroke-width="1.1"/><line x1="111.75" y1="339.33" x2="118.25" y2="339.33" stroke="#231f20" stroke-width="1.4"/><rect x="128" y="348.1" width="12.5" height="41.7" fill="#2d4b86"/><line x1="134.25" y1="348.1" x2="134.25" y2="341.13" stroke="#231f20" stroke-width="1.1"/><line x1="131" y1="341.13" x2="137.5" y2="341.13" stroke="#231f20" stroke-width="1.4"/><line x1="105.5" y1="330.9" x2="105.5" y2="390.5" stroke="#231f20" stroke-width="1.5"/><line x1="104.8" y1="389.8" x2="142.5" y2="389.8" stroke="#231f20" stroke-width="1.5"/><line x1="102.5" y1="389.8" x2="105.5" y2="389.8" stroke="#231f20" stroke-width="1"/><text transform="translate(99.2 391.95) scale(1 1)" font-size="6.4" text-anchor="end" fill="#2c2c2c" font-family="Liberation Sans" stroke="#2c2c2c" stroke-width="0.18">0.0</text><line x1="102.5" y1="378.56" x2="105.5" y2="378.56" stroke="#231f20" stroke-width="1"/><text transform="translate(99.2 380.71) scale(1 1)" font-size="6.4" text-anchor="end" fill="#2c2c2c" font-family="Liberation Sans" stroke="#2c2c2c" stroke-width="0.18">0.1</text><line x1="102.5" y1="367.32" x2="105.5" y2="367.32" stroke="#231f20" stroke-width="1"/><text transform="translate(99.2 369.47) scale(1 1)" font-size="6.4" text-anchor="end" fill="#2c2c2c" font-family="Liberation Sans" stroke="#2c2c2c" stroke-width="0.18">0.2</text><line x1="102.5" y1="356.08" x2="105.5" y2="356.08" stroke="#231f20" stroke-width="1"/><text transform="translate(99.2 358.23) scale(1 1)" font-size="6.4" text-anchor="end" fill="#2c2c2c" font-family="Liberation Sans" stroke="#2c2c2c" stroke-width="0.18">0.3</text><line x1="102.5" y1="344.84" x2="105.5" y2="344.84" stroke="#231f20" stroke-width="1"/><text transform="translate(99.2 346.99) scale(1 1)" font-size="6.4" text-anchor="end" fill="#2c2c2c" font-family="Liberation Sans" stroke="#2c2c2c" stroke-width="0.18">0.4</text><line x1="102.5" y1="333.6" x2="105.5" y2="333.6" stroke="#231f20" stroke-width="1"/><text transform="translate(99.2 335.75) scale(1 1)" font-size="6.4" text-anchor="end" fill="#2c2c2c" font-family="Liberation Sans" stroke="#2c2c2c" stroke-width="0.18">0.5</text><text x="125.3" y="325.6" font-size="7.6" text-anchor="middle" font-weight="bold" font-style="italic" fill="#1a1a1a" font-family="Liberation Sans" stroke="#1a1a1a" stroke-width="0.25">Zfpm1</text><rect x="168.75" y="350.6" width="12.5" height="39.2" fill="#9599c4"/><line x1="175" y1="350.6" x2="175" y2="343.58" stroke="#231f20" stroke-width="1.1"/><line x1="171.75" y1="343.58" x2="178.25" y2="343.58" stroke="#231f20" stroke-width="1.4"/><rect x="188" y="349.83" width="12.5" height="39.97" fill="#2d4b86"/><line x1="194.25" y1="349.83" x2="194.25" y2="348.07" stroke="#231f20" stroke-width="1.1"/><line x1="191" y1="348.07" x2="197.5" y2="348.07" stroke="#231f20" stroke-width="1.4"/><line x1="165" y1="330.9" x2="165" y2="390.5" stroke="#231f20" stroke-width="1.5"/><line x1="164.3" y1="389.8" x2="203" y2="389.8" stroke="#231f20" stroke-width="1.5"/><line x1="162" y1="389.8" x2="165" y2="389.8" stroke="#231f20" stroke-width="1"/><text transform="translate(158.7 391.95) scale(1 1)" font-size="6.4" text-anchor="end" fill="#2c2c2c" font-family="Liberation Sans" stroke="#2c2c2c" stroke-width="0.18">0.0</text><line x1="162" y1="375.75" x2="165" y2="375.75" stroke="#231f20" stroke-width="1"/><text transform="translate(158.7 377.9) scale(1 1)" font-size="6.4" text-anchor="end" fill="#2c2c2c" font-family="Liberation Sans" stroke="#2c2c2c" stroke-width="0.18">0.2</text><line x1="162" y1="361.7" x2="165" y2="361.7" stroke="#231f20" stroke-width="1"/><text transform="translate(158.7 363.85) scale(1 1)" font-size="6.4" text-anchor="end" fill="#2c2c2c" font-family="Liberation Sans" stroke="#2c2c2c" stroke-width="0.18">0.4</text><line x1="162" y1="347.65" x2="165" y2="347.65" stroke="#231f20" stroke-width="1"/><text transform="translate(158.7 349.8) scale(1 1)" font-size="6.4" text-anchor="end" fill="#2c2c2c" font-family="Liberation Sans" stroke="#2c2c2c" stroke-width="0.18">0.6</text><line x1="162" y1="333.6" x2="165" y2="333.6" stroke="#231f20" stroke-width="1"/><text transform="translate(158.7 335.75) scale(1 1)" font-size="6.4" text-anchor="end" fill="#2c2c2c" font-family="Liberation Sans" stroke="#2c2c2c" stroke-width="0.18">0.8</text><text x="185" y="325.6" font-size="7.6" text-anchor="middle" font-weight="bold" font-style="italic" fill="#1a1a1a" font-family="Liberation Sans" stroke="#1a1a1a" stroke-width="0.25">Mpl</text><rect x="228.25" y="346.86" width="12.5" height="42.94" fill="#9599c4"/><line x1="234.5" y1="346.86" x2="234.5" y2="344.84" stroke="#231f20" stroke-width="1.1"/><line x1="231.25" y1="344.84" x2="237.75" y2="344.84" stroke="#231f20" stroke-width="1.4"/><rect x="247" y="347.76" width="12.5" height="42.04" fill="#2d4b86"/><line x1="253.25" y1="347.76" x2="253.25" y2="346.86" stroke="#231f20" stroke-width="1.1"/><line x1="250" y1="346.86" x2="256.5" y2="346.86" stroke="#231f20" stroke-width="1.4"/><line x1="225" y1="330.9" x2="225" y2="390.5" stroke="#231f20" stroke-width="1.5"/><line x1="224.3" y1="389.8" x2="261.3" y2="389.8" stroke="#231f20" stroke-width="1.5"/><line x1="222" y1="389.8" x2="225" y2="389.8" stroke="#231f20" stroke-width="1"/><text transform="translate(218.7 391.95) scale(1 1)" font-size="6.4" text-anchor="end" fill="#2c2c2c" font-family="Liberation Sans" stroke="#2c2c2c" stroke-width="0.18">0.0</text><line x1="222" y1="378.56" x2="225" y2="378.56" stroke="#231f20" stroke-width="1"/><text transform="translate(218.7 380.71) scale(1 1)" font-size="6.4" text-anchor="end" fill="#2c2c2c" font-family="Liberation Sans" stroke="#2c2c2c" stroke-width="0.18">0.5</text><line x1="222" y1="367.32" x2="225" y2="367.32" stroke="#231f20" stroke-width="1"/><text transform="translate(218.7 369.47) scale(1 1)" font-size="6.4" text-anchor="end" fill="#2c2c2c" font-family="Liberation Sans" stroke="#2c2c2c" stroke-width="0.18">1.0</text><line x1="222" y1="356.08" x2="225" y2="356.08" stroke="#231f20" stroke-width="1"/><text transform="translate(218.7 358.23) scale(1 1)" font-size="6.4" text-anchor="end" fill="#2c2c2c" font-family="Liberation Sans" stroke="#2c2c2c" stroke-width="0.18">1.5</text><line x1="222" y1="344.84" x2="225" y2="344.84" stroke="#231f20" stroke-width="1"/><text transform="translate(218.7 346.99) scale(1 1)" font-size="6.4" text-anchor="end" fill="#2c2c2c" font-family="Liberation Sans" stroke="#2c2c2c" stroke-width="0.18">2.0</text><line x1="222" y1="333.6" x2="225" y2="333.6" stroke="#231f20" stroke-width="1"/><text transform="translate(218.7 335.75) scale(1 1)" font-size="6.4" text-anchor="end" fill="#2c2c2c" font-family="Liberation Sans" stroke="#2c2c2c" stroke-width="0.18">2.5</text><text x="244.5" y="325.6" font-size="7.6" text-anchor="middle" font-weight="bold" font-style="italic" fill="#1a1a1a" font-family="Liberation Sans" stroke="#1a1a1a" stroke-width="0.25">Nfe2</text><rect x="282.5" y="354.82" width="12.25" height="34.98" fill="#9599c4"/><line x1="288.62" y1="354.82" x2="288.62" y2="351.87" stroke="#231f20" stroke-width="1.1"/><line x1="285.44" y1="351.87" x2="291.81" y2="351.87" stroke="#231f20" stroke-width="1.4"/><rect x="300.5" y="351.02" width="12.25" height="38.78" fill="#2d4b86"/><line x1="306.62" y1="351.02" x2="306.62" y2="348.63" stroke="#231f20" stroke-width="1.1"/><line x1="303.44" y1="348.63" x2="309.81" y2="348.63" stroke="#231f20" stroke-width="1.4"/><line x1="278.75" y1="330.9" x2="278.75" y2="390.5" stroke="#231f20" stroke-width="1.5"/><line x1="278.05" y1="389.8" x2="315" y2="389.8" stroke="#231f20" stroke-width="1.5"/><line x1="275.75" y1="389.8" x2="278.75" y2="389.8" stroke="#231f20" stroke-width="1"/><text transform="translate(272.45 391.95) scale(1 1)" font-size="6.4" text-anchor="end" fill="#2c2c2c" font-family="Liberation Sans" stroke="#2c2c2c" stroke-width="0.18">0</text><line x1="275.75" y1="375.75" x2="278.75" y2="375.75" stroke="#231f20" stroke-width="1"/><text transform="translate(272.45 377.9) scale(1 1)" font-size="6.4" text-anchor="end" fill="#2c2c2c" font-family="Liberation Sans" stroke="#2c2c2c" stroke-width="0.18">1</text><line x1="275.75" y1="361.7" x2="278.75" y2="361.7" stroke="#231f20" stroke-width="1"/><text transform="translate(272.45 363.85) scale(1 1)" font-size="6.4" text-anchor="end" fill="#2c2c2c" font-family="Liberation Sans" stroke="#2c2c2c" stroke-width="0.18">2</text><line x1="275.75" y1="347.65" x2="278.75" y2="347.65" stroke="#231f20" stroke-width="1"/><text transform="translate(272.45 349.8) scale(1 1)" font-size="6.4" text-anchor="end" fill="#2c2c2c" font-family="Liberation Sans" stroke="#2c2c2c" stroke-width="0.18">3</text><line x1="275.75" y1="333.6" x2="278.75" y2="333.6" stroke="#231f20" stroke-width="1"/><text transform="translate(272.45 335.75) scale(1 1)" font-size="6.4" text-anchor="end" fill="#2c2c2c" font-family="Liberation Sans" stroke="#2c2c2c" stroke-width="0.18">4</text><text x="298" y="325.6" font-size="7.6" text-anchor="middle" font-weight="bold" font-style="italic" fill="#1a1a1a" font-family="Liberation Sans" stroke="#1a1a1a" stroke-width="0.25">Runx1</text><text transform="translate(25.1 319.5) rotate(-90)" font-size="8.6" text-anchor="middle" fill="#3a3a3a" font-family="Liberation Sans" textLength="48.5" lengthAdjust="spacingAndGlyphs">Expression <tspan font-style="italic">/Hprt</tspan></text><rect x="266.6" y="253" width="5.7" height="5.7" fill="#9599c4"/><text transform="translate(274.9 258.1) scale(0.87 1)" font-size="5.8" fill="#3a3a3a" font-family="Liberation Sans">PreMegE<tspan font-size="5.1" dy="-3.3">Control</tspan></text><rect x="266.6" y="261.75" width="5.7" height="5.7" fill="#2d4b86"/><text transform="translate(274.9 266.85) scale(0.87 1)" font-size="5.8" fill="#3a3a3a" font-family="Liberation Sans">PreMegE<tspan font-size="5.1" dy="-3.3">fl/flCre+/+</tspan></text><text transform="translate(325.3 232.8) scale(1.1 1)" font-size="11" font-weight="bold" fill="#111" font-family="Liberation Sans">D</text><rect x="374" y="303.1" width="7.2" height="6.3" fill="#9d87b6"/><line x1="377.6" y1="303.1" x2="377.6" y2="301.21" stroke="#231f20" stroke-width="1.1"/><line x1="375.73" y1="301.21" x2="379.47" y2="301.21" stroke="#231f20" stroke-width="1.4"/><rect x="384.2" y="301.28" width="7.2" height="8.12" fill="#4f2468"/><line x1="387.8" y1="301.28" x2="387.8" y2="300.14" stroke="#231f20" stroke-width="1.1"/><line x1="385.93" y1="300.14" x2="389.67" y2="300.14" stroke="#231f20" stroke-width="1.4"/><rect x="394.6" y="308.64" width="7.2" height="0.76" fill="#f2ca92"/><line x1="398.2" y1="308.64" x2="398.2" y2="308.26" stroke="#231f20" stroke-width="1.1"/><line x1="396.33" y1="308.26" x2="400.07" y2="308.26" stroke="#231f20" stroke-width="1.4"/><rect x="405.2" y="308.26" width="7.2" height="1.14" fill="#e18e1a"/><line x1="408.8" y1="308.26" x2="408.8" y2="307.88" stroke="#231f20" stroke-width="1.1"/><line x1="406.93" y1="307.88" x2="410.67" y2="307.88" stroke="#231f20" stroke-width="1.4"/><rect x="415.8" y="279.43" width="7.2" height="29.97" fill="#bfd9a2"/><line x1="419.4" y1="279.43" x2="419.4" y2="277.16" stroke="#231f20" stroke-width="1.1"/><line x1="417.53" y1="277.16" x2="421.27" y2="277.16" stroke="#231f20" stroke-width="1.4"/><rect x="427" y="271.85" width="7.2" height="37.55" fill="#62a544"/><line x1="430.6" y1="271.85" x2="430.6" y2="268.05" stroke="#231f20" stroke-width="1.1"/><line x1="428.73" y1="268.05" x2="432.47" y2="268.05" stroke="#231f20" stroke-width="1.4"/><rect x="437.9" y="279.43" width="7.2" height="29.97" fill="#9599c4"/><line x1="441.5" y1="279.43" x2="441.5" y2="277.54" stroke="#231f20" stroke-width="1.1"/><line x1="439.63" y1="277.54" x2="443.37" y2="277.54" stroke="#231f20" stroke-width="1.4"/><rect x="448.5" y="268.05" width="7.2" height="41.35" fill="#2d4b86"/><line x1="452.1" y1="268.05" x2="452.1" y2="263.5" stroke="#231f20" stroke-width="1.1"/><line x1="450.23" y1="263.5" x2="453.97" y2="263.5" stroke="#231f20" stroke-width="1.4"/><line x1="372.3" y1="249.8" x2="372.3" y2="310.1" stroke="#231f20" stroke-width="1.5"/><line x1="371.6" y1="309.4" x2="457" y2="309.4" stroke="#231f20" stroke-width="1.5"/><line x1="369.3" y1="309.4" x2="372.3" y2="309.4" stroke="#231f20" stroke-width="1"/><text transform="translate(366 311.55) scale(1 1)" font-size="6.4" text-anchor="end" fill="#2c2c2c" font-family="Liberation Sans" stroke="#2c2c2c" stroke-width="0.18">0.000</text><line x1="369.3" y1="290.43" x2="372.3" y2="290.43" stroke="#231f20" stroke-width="1"/><text transform="translate(366 292.58) scale(1 1)" font-size="6.4" text-anchor="end" fill="#2c2c2c" font-family="Liberation Sans" stroke="#2c2c2c" stroke-width="0.18">0.005</text><line x1="369.3" y1="271.47" x2="372.3" y2="271.47" stroke="#231f20" stroke-width="1"/><text transform="translate(366 273.62) scale(1 1)" font-size="6.4" text-anchor="end" fill="#2c2c2c" font-family="Liberation Sans" stroke="#2c2c2c" stroke-width="0.18">0.010</text><line x1="369.3" y1="252.5" x2="372.3" y2="252.5" stroke="#231f20" stroke-width="1"/><text transform="translate(366 254.65) scale(1 1)" font-size="6.4" text-anchor="end" fill="#2c2c2c" font-family="Liberation Sans" stroke="#2c2c2c" stroke-width="0.18">0.015</text><text x="414.8" y="245" font-size="7.6" text-anchor="middle" font-weight="bold" font-style="italic" fill="#1a1a1a" font-family="Liberation Sans" stroke="#1a1a1a" stroke-width="0.25">Notch1</text><text x="398" y="304.5" font-size="5.2" text-anchor="middle" font-weight="normal" font-style="normal" fill="#222" font-family="Liberation Sans" >#</text><text x="408.6" y="304.5" font-size="5.2" text-anchor="middle" font-weight="normal" font-style="normal" fill="#222" font-family="Liberation Sans" >#</text><rect x="374" y="368.35" width="7.3" height="21.95" fill="#9d87b6"/><line x1="377.65" y1="368.35" x2="377.65" y2="364.81" stroke="#231f20" stroke-width="1.1"/><line x1="375.75" y1="364.81" x2="379.55" y2="364.81" stroke="#231f20" stroke-width="1.4"/><rect x="384.2" y="366.63" width="7.3" height="23.67" fill="#4f2468"/><line x1="387.85" y1="366.63" x2="387.85" y2="362.89" stroke="#231f20" stroke-width="1.1"/><line x1="385.95" y1="362.89" x2="389.75" y2="362.89" stroke="#231f20" stroke-width="1.4"/><rect x="394.6" y="372.86" width="7.3" height="17.44" fill="#f2ca92"/><line x1="398.25" y1="372.86" x2="398.25" y2="369.79" stroke="#231f20" stroke-width="1.1"/><line x1="396.35" y1="369.79" x2="400.15" y2="369.79" stroke="#231f20" stroke-width="1.4"/><rect x="405.2" y="370.85" width="7.3" height="19.45" fill="#e18e1a"/><line x1="408.85" y1="370.85" x2="408.85" y2="367.88" stroke="#231f20" stroke-width="1.1"/><line x1="406.95" y1="367.88" x2="410.75" y2="367.88" stroke="#231f20" stroke-width="1.4"/><rect x="415.8" y="370.85" width="7.3" height="19.45" fill="#bfd9a2"/><line x1="419.45" y1="370.85" x2="419.45" y2="366.82" stroke="#231f20" stroke-width="1.1"/><line x1="417.55" y1="366.82" x2="421.35" y2="366.82" stroke="#231f20" stroke-width="1.4"/><rect x="427" y="370.85" width="7.3" height="19.45" fill="#62a544"/><line x1="430.65" y1="370.85" x2="430.65" y2="368.26" stroke="#231f20" stroke-width="1.1"/><line x1="428.75" y1="368.26" x2="432.55" y2="368.26" stroke="#231f20" stroke-width="1.4"/><rect x="437.9" y="355.03" width="7.3" height="35.27" fill="#9599c4"/><line x1="441.55" y1="355.03" x2="441.55" y2="347.85" stroke="#231f20" stroke-width="1.1"/><line x1="439.65" y1="347.85" x2="443.45" y2="347.85" stroke="#231f20" stroke-width="1.4"/><rect x="448.5" y="349.76" width="7.3" height="40.54" fill="#2d4b86"/><line x1="452.15" y1="349.76" x2="452.15" y2="344.88" stroke="#231f20" stroke-width="1.1"/><line x1="450.25" y1="344.88" x2="454.05" y2="344.88" stroke="#231f20" stroke-width="1.4"/><line x1="372.3" y1="330.1" x2="372.3" y2="391" stroke="#231f20" stroke-width="1.5"/><line x1="371.6" y1="390.3" x2="457.5" y2="390.3" stroke="#231f20" stroke-width="1.5"/><line x1="369.3" y1="390.3" x2="372.3" y2="390.3" stroke="#231f20" stroke-width="1"/><text transform="translate(366 392.45) scale(1 1)" font-size="6.4" text-anchor="end" fill="#2c2c2c" font-family="Liberation Sans" stroke="#2c2c2c" stroke-width="0.18">0.0</text><line x1="369.3" y1="371.13" x2="372.3" y2="371.13" stroke="#231f20" stroke-width="1"/><text transform="translate(366 373.28) scale(1 1)" font-size="6.4" text-anchor="end" fill="#2c2c2c" font-family="Liberation Sans" stroke="#2c2c2c" stroke-width="0.18">0.2</text><line x1="369.3" y1="351.97" x2="372.3" y2="351.97" stroke="#231f20" stroke-width="1"/><text transform="translate(366 354.12) scale(1 1)" font-size="6.4" text-anchor="end" fill="#2c2c2c" font-family="Liberation Sans" stroke="#2c2c2c" stroke-width="0.18">0.4</text><line x1="369.3" y1="332.8" x2="372.3" y2="332.8" stroke="#231f20" stroke-width="1"/><text transform="translate(366 334.95) scale(1 1)" font-size="6.4" text-anchor="end" fill="#2c2c2c" font-family="Liberation Sans" stroke="#2c2c2c" stroke-width="0.18">0.6</text><text x="414.8" y="325" font-size="7.6" text-anchor="middle" font-weight="bold" font-style="italic" fill="#1a1a1a" font-family="Liberation Sans" stroke="#1a1a1a" stroke-width="0.25">Notch2</text><text transform="translate(344.9 319.5) rotate(-90)" font-size="8.6" text-anchor="middle" fill="#3a3a3a" font-family="Liberation Sans" textLength="48.5" lengthAdjust="spacingAndGlyphs">Expression <tspan font-style="italic">/Hprt</tspan></text><rect x="463.4" y="254.2" width="5.2" height="5.2" fill="#9d87b6"/><text transform="translate(471.2 258.8) scale(0.85 1)" font-size="6.2" fill="#3c3c3c" font-family="Liberation Sans">PreCFU-E<tspan font-size="4.8" dy="-3.6">Control</tspan></text><rect x="463.4" y="263" width="5.2" height="5.2" fill="#4f2468"/><text transform="translate(471.2 267.6) scale(0.85 1)" font-size="6.2" fill="#3c3c3c" font-family="Liberation Sans">PreCFU-E<tspan font-size="4.8" dy="-3.6">fl/flCre+/+</tspan></text><rect x="463.4" y="271.8" width="5.2" height="5.2" fill="#f2ca92"/><text transform="translate(471.2 276.4) scale(0.85 1)" font-size="6.2" fill="#3c3c3c" font-family="Liberation Sans">CFU-E<tspan font-size="4.8" dy="-3.6">Control</tspan></text><rect x="463.4" y="280.6" width="5.2" height="5.2" fill="#e18e1a"/><text transform="translate(471.2 285.2) scale(0.85 1)" font-size="6.2" fill="#3c3c3c" font-family="Liberation Sans">CFU-E<tspan font-size="4.8" dy="-3.6">fl/flCre+/+</tspan></text><rect x="463.4" y="289.4" width="5.2" height="5.2" fill="#bfd9a2"/><text transform="translate(471.2 294) scale(0.85 1)" font-size="6.2" fill="#3c3c3c" font-family="Liberation Sans">MkP<tspan font-size="4.8" dy="-3.6">Control</tspan></text><rect x="463.4" y="298.2" width="5.2" height="5.2" fill="#62a544"/><text transform="translate(471.2 302.8) scale(0.85 1)" font-size="6.2" fill="#3c3c3c" font-family="Liberation Sans">MkP<tspan font-size="4.8" dy="-3.6">fl/flCre+/+</tspan></text><rect x="463.4" y="307" width="5.2" height="5.2" fill="#9599c4"/><text transform="translate(471.2 311.6) scale(0.85 1)" font-size="6.2" fill="#3c3c3c" font-family="Liberation Sans">PreMegE<tspan font-size="4.8" dy="-3.6">Control</tspan></text><rect x="463.4" y="315.8" width="5.2" height="5.2" fill="#2d4b86"/><text transform="translate(471.2 320.4) scale(0.85 1)" font-size="6.2" fill="#3c3c3c" font-family="Liberation Sans">PreMegE<tspan font-size="4.8" dy="-3.6">fl/flCre+/+</tspan></text><text transform="translate(7.2 413.1) scale(1.1 1)" font-size="11" font-weight="bold" fill="#111" font-family="Liberation Sans">E</text><rect x="46.6" y="472" width="5.6" height="29.5" fill="#d79c8e"/><line x1="49.4" y1="472" x2="49.4" y2="465.47" stroke="#231f20" stroke-width="1.1"/><line x1="47.94" y1="465.47" x2="50.86" y2="465.47" stroke="#231f20" stroke-width="1.4"/><rect x="54.3" y="459.61" width="5.6" height="41.89" fill="#b3132f"/><line x1="57.1" y1="459.61" x2="57.1" y2="451.28" stroke="#231f20" stroke-width="1.1"/><line x1="55.64" y1="451.28" x2="58.56" y2="451.28" stroke="#231f20" stroke-width="1.4"/><rect x="62.4" y="500.26" width="5.6" height="1.24" fill="#9599c4"/><line x1="65.2" y1="500.26" x2="65.2" y2="499.25" stroke="#231f20" stroke-width="1.1"/><line x1="63.74" y1="499.25" x2="66.66" y2="499.25" stroke="#231f20" stroke-width="1.4"/><rect x="70.4" y="499.81" width="5.6" height="1.69" fill="#2d4b86"/><line x1="73.2" y1="499.81" x2="73.2" y2="498.8" stroke="#231f20" stroke-width="1.1"/><line x1="71.74" y1="498.8" x2="74.66" y2="498.8" stroke="#231f20" stroke-width="1.4"/><rect x="78.4" y="500.15" width="5.6" height="1.35" fill="#bfd9a2"/><line x1="81.2" y1="500.15" x2="81.2" y2="499.47" stroke="#231f20" stroke-width="1.1"/><line x1="79.74" y1="499.47" x2="82.66" y2="499.47" stroke="#231f20" stroke-width="1.4"/><rect x="86.2" y="484.5" width="5.6" height="17" fill="#62a544"/><line x1="89" y1="484.5" x2="89" y2="480.11" stroke="#231f20" stroke-width="1.1"/><line x1="87.54" y1="480.11" x2="90.46" y2="480.11" stroke="#231f20" stroke-width="1.4"/><rect x="94.2" y="496.32" width="5.6" height="5.18" fill="#9d87b6"/><line x1="97" y1="496.32" x2="97" y2="495.53" stroke="#231f20" stroke-width="1.1"/><line x1="95.54" y1="495.53" x2="98.46" y2="495.53" stroke="#231f20" stroke-width="1.4"/><rect x="102" y="487.99" width="5.6" height="13.51" fill="#4f2468"/><line x1="104.8" y1="487.99" x2="104.8" y2="485.4" stroke="#231f20" stroke-width="1.1"/><line x1="103.34" y1="485.4" x2="106.26" y2="485.4" stroke="#231f20" stroke-width="1.4"/><rect x="110" y="485.06" width="5.6" height="16.44" fill="#f2ca92"/><line x1="112.8" y1="485.06" x2="112.8" y2="481.91" stroke="#231f20" stroke-width="1.1"/><line x1="111.34" y1="481.91" x2="114.26" y2="481.91" stroke="#231f20" stroke-width="1.4"/><rect x="118.2" y="464.9" width="5.6" height="36.6" fill="#e18e1a"/><line x1="121" y1="464.9" x2="121" y2="460.96" stroke="#231f20" stroke-width="1.1"/><line x1="119.54" y1="460.96" x2="122.46" y2="460.96" stroke="#231f20" stroke-width="1.4"/><line x1="45.2" y1="442.5" x2="45.2" y2="502.2" stroke="#231f20" stroke-width="1.5"/><line x1="44.5" y1="501.5" x2="124.8" y2="501.5" stroke="#231f20" stroke-width="1.5"/><line x1="42.2" y1="501.5" x2="45.2" y2="501.5" stroke="#231f20" stroke-width="1"/><text transform="translate(38.9 503.65) scale(1 1)" font-size="6.4" text-anchor="end" fill="#2c2c2c" font-family="Liberation Sans" stroke="#2c2c2c" stroke-width="0.18">0.00</text><line x1="42.2" y1="490.24" x2="45.2" y2="490.24" stroke="#231f20" stroke-width="1"/><text transform="translate(38.9 492.39) scale(1 1)" font-size="6.4" text-anchor="end" fill="#2c2c2c" font-family="Liberation Sans" stroke="#2c2c2c" stroke-width="0.18">0.01</text><line x1="42.2" y1="478.98" x2="45.2" y2="478.98" stroke="#231f20" stroke-width="1"/><text transform="translate(38.9 481.13) scale(1 1)" font-size="6.4" text-anchor="end" fill="#2c2c2c" font-family="Liberation Sans" stroke="#2c2c2c" stroke-width="0.18">0.02</text><line x1="42.2" y1="467.72" x2="45.2" y2="467.72" stroke="#231f20" stroke-width="1"/><text transform="translate(38.9 469.87) scale(1 1)" font-size="6.4" text-anchor="end" fill="#2c2c2c" font-family="Liberation Sans" stroke="#2c2c2c" stroke-width="0.18">0.03</text><line x1="42.2" y1="456.46" x2="45.2" y2="456.46" stroke="#231f20" stroke-width="1"/><text transform="translate(38.9 458.61) scale(1 1)" font-size="6.4" text-anchor="end" fill="#2c2c2c" font-family="Liberation Sans" stroke="#2c2c2c" stroke-width="0.18">0.04</text><line x1="42.2" y1="445.2" x2="45.2" y2="445.2" stroke="#231f20" stroke-width="1"/><text transform="translate(38.9 447.35) scale(1 1)" font-size="6.4" text-anchor="end" fill="#2c2c2c" font-family="Liberation Sans" stroke="#2c2c2c" stroke-width="0.18">0.05</text><text x="85" y="437.5" font-size="7.6" text-anchor="middle" font-weight="bold" font-style="italic" fill="#1a1a1a" font-family="Liberation Sans" stroke="#1a1a1a" stroke-width="0.25">Hes1</text><text x="89" y="478.3" font-size="5.2" text-anchor="middle" font-weight="normal" font-style="normal" fill="#222" font-family="Liberation Sans" >*</text><text x="104.7" y="483.6" font-size="5.2" text-anchor="middle" font-weight="normal" font-style="normal" fill="#222" font-family="Liberation Sans" >*</text><text x="121" y="459.6" font-size="5.2" text-anchor="middle" font-weight="normal" font-style="normal" fill="#222" font-family="Liberation Sans" >*</text><rect x="157" y="463.97" width="6" height="37.53" fill="#d79c8e"/><line x1="160" y1="463.97" x2="160" y2="454.58" stroke="#231f20" stroke-width="1.1"/><line x1="158.44" y1="454.58" x2="161.56" y2="454.58" stroke="#231f20" stroke-width="1.4"/><rect x="165" y="470.23" width="6" height="31.27" fill="#b3132f"/><line x1="168" y1="470.23" x2="168" y2="461.98" stroke="#231f20" stroke-width="1.1"/><line x1="166.44" y1="461.98" x2="169.56" y2="461.98" stroke="#231f20" stroke-width="1.4"/><rect x="173.8" y="498.23" width="6" height="3.27" fill="#9599c4"/><line x1="176.8" y1="498.23" x2="176.8" y2="497.11" stroke="#231f20" stroke-width="1.1"/><line x1="175.24" y1="497.11" x2="178.36" y2="497.11" stroke="#231f20" stroke-width="1.4"/><rect x="181.3" y="495.23" width="6" height="6.27" fill="#2d4b86"/><line x1="184.3" y1="495.23" x2="184.3" y2="492.6" stroke="#231f20" stroke-width="1.1"/><line x1="182.74" y1="492.6" x2="185.86" y2="492.6" stroke="#231f20" stroke-width="1.4"/><rect x="189.3" y="497.37" width="6" height="4.13" fill="#bfd9a2"/><line x1="192.3" y1="497.37" x2="192.3" y2="494.37" stroke="#231f20" stroke-width="1.1"/><line x1="190.74" y1="494.37" x2="193.86" y2="494.37" stroke="#231f20" stroke-width="1.4"/><rect x="197" y="488.48" width="6" height="13.02" fill="#62a544"/><line x1="200" y1="488.48" x2="200" y2="486.97" stroke="#231f20" stroke-width="1.1"/><line x1="198.44" y1="486.97" x2="201.56" y2="486.97" stroke="#231f20" stroke-width="1.4"/><rect x="205.5" y="499.62" width="6" height="1.88" fill="#9d87b6"/><line x1="208.5" y1="499.62" x2="208.5" y2="498.87" stroke="#231f20" stroke-width="1.1"/><line x1="206.94" y1="498.87" x2="210.06" y2="498.87" stroke="#231f20" stroke-width="1.4"/><rect x="213" y="495.23" width="6" height="6.27" fill="#4f2468"/><line x1="216" y1="495.23" x2="216" y2="494.11" stroke="#231f20" stroke-width="1.1"/><line x1="214.44" y1="494.11" x2="217.56" y2="494.11" stroke="#231f20" stroke-width="1.4"/><rect x="221" y="495.49" width="6" height="6.01" fill="#f2ca92"/><line x1="224" y1="495.49" x2="224" y2="494.74" stroke="#231f20" stroke-width="1.1"/><line x1="222.44" y1="494.74" x2="225.56" y2="494.74" stroke="#231f20" stroke-width="1.4"/><rect x="228.8" y="484.5" width="6" height="17" fill="#e18e1a"/><line x1="231.8" y1="484.5" x2="231.8" y2="482.25" stroke="#231f20" stroke-width="1.1"/><line x1="230.24" y1="482.25" x2="233.36" y2="482.25" stroke="#231f20" stroke-width="1.4"/><line x1="155.5" y1="442.5" x2="155.5" y2="502.2" stroke="#231f20" stroke-width="1.5"/><line x1="154.8" y1="501.5" x2="236.3" y2="501.5" stroke="#231f20" stroke-width="1.5"/><line x1="152.5" y1="501.5" x2="155.5" y2="501.5" stroke="#231f20" stroke-width="1"/><text transform="translate(149.2 503.65) scale(1 1)" font-size="6.4" text-anchor="end" fill="#2c2c2c" font-family="Liberation Sans" stroke="#2c2c2c" stroke-width="0.18">0.000</text><line x1="152.5" y1="482.73" x2="155.5" y2="482.73" stroke="#231f20" stroke-width="1"/><text transform="translate(149.2 484.88) scale(1 1)" font-size="6.4" text-anchor="end" fill="#2c2c2c" font-family="Liberation Sans" stroke="#2c2c2c" stroke-width="0.18">0.005</text><line x1="152.5" y1="463.97" x2="155.5" y2="463.97" stroke="#231f20" stroke-width="1"/><text transform="translate(149.2 466.12) scale(1 1)" font-size="6.4" text-anchor="end" fill="#2c2c2c" font-family="Liberation Sans" stroke="#2c2c2c" stroke-width="0.18">0.010</text><line x1="152.5" y1="445.2" x2="155.5" y2="445.2" stroke="#231f20" stroke-width="1"/><text transform="translate(149.2 447.35) scale(1 1)" font-size="6.4" text-anchor="end" fill="#2c2c2c" font-family="Liberation Sans" stroke="#2c2c2c" stroke-width="0.18">0.015</text><text x="196.3" y="437.5" font-size="7.6" text-anchor="middle" font-weight="bold" font-style="italic" fill="#1a1a1a" font-family="Liberation Sans" stroke="#1a1a1a" stroke-width="0.25">Hes5</text><text x="176.3" y="496.2" font-size="5.2" text-anchor="middle" font-weight="normal" font-style="normal" fill="#222" font-family="Liberation Sans" >#</text><text x="200" y="485.2" font-size="5.2" text-anchor="middle" font-weight="normal" font-style="normal" fill="#222" font-family="Liberation Sans" >*</text><text x="207.9" y="496.4" font-size="5.2" text-anchor="middle" font-weight="normal" font-style="normal" fill="#222" font-family="Liberation Sans" >#</text><text x="215.8" y="493.4" font-size="5.2" text-anchor="middle" font-weight="normal" font-style="normal" fill="#222" font-family="Liberation Sans" >*</text><text x="232" y="481.3" font-size="5.2" text-anchor="middle" font-weight="normal" font-style="normal" fill="#222" font-family="Liberation Sans" >**</text><rect x="268.25" y="492" width="5.7" height="9.5" fill="#d79c8e"/><line x1="271.1" y1="492" x2="271.1" y2="489" stroke="#231f20" stroke-width="1.1"/><line x1="269.62" y1="489" x2="272.58" y2="489" stroke="#231f20" stroke-width="1.4"/><rect x="276.25" y="486.49" width="5.7" height="15.01" fill="#b3132f"/><line x1="279.1" y1="486.49" x2="279.1" y2="483.48" stroke="#231f20" stroke-width="1.1"/><line x1="277.62" y1="483.48" x2="280.58" y2="483.48" stroke="#231f20" stroke-width="1.4"/><rect x="284.25" y="497.37" width="5.7" height="4.13" fill="#9599c4"/><line x1="287.1" y1="497.37" x2="287.1" y2="495.87" stroke="#231f20" stroke-width="1.1"/><line x1="285.62" y1="495.87" x2="288.58" y2="495.87" stroke="#231f20" stroke-width="1.4"/><rect x="292" y="493.99" width="5.7" height="7.51" fill="#2d4b86"/><line x1="294.85" y1="493.99" x2="294.85" y2="492.87" stroke="#231f20" stroke-width="1.1"/><line x1="293.37" y1="492.87" x2="296.33" y2="492.87" stroke="#231f20" stroke-width="1.4"/><rect x="300" y="472.22" width="5.7" height="29.28" fill="#bfd9a2"/><line x1="302.85" y1="472.22" x2="302.85" y2="465.84" stroke="#231f20" stroke-width="1.1"/><line x1="301.37" y1="465.84" x2="304.33" y2="465.84" stroke="#231f20" stroke-width="1.4"/><rect x="308" y="460.21" width="5.7" height="41.29" fill="#62a544"/><line x1="310.85" y1="460.21" x2="310.85" y2="452.71" stroke="#231f20" stroke-width="1.1"/><line x1="309.37" y1="452.71" x2="312.33" y2="452.71" stroke="#231f20" stroke-width="1.4"/><rect x="316.25" y="496.62" width="5.7" height="4.88" fill="#9d87b6"/><line x1="319.1" y1="496.62" x2="319.1" y2="494.74" stroke="#231f20" stroke-width="1.1"/><line x1="317.62" y1="494.74" x2="320.58" y2="494.74" stroke="#231f20" stroke-width="1.4"/><rect x="323.75" y="490.24" width="5.7" height="11.26" fill="#4f2468"/><line x1="326.6" y1="490.24" x2="326.6" y2="489.11" stroke="#231f20" stroke-width="1.1"/><line x1="325.12" y1="489.11" x2="328.08" y2="489.11" stroke="#231f20" stroke-width="1.4"/><rect x="332" y="491.37" width="5.7" height="10.13" fill="#f2ca92"/><line x1="334.85" y1="491.37" x2="334.85" y2="489.11" stroke="#231f20" stroke-width="1.1"/><line x1="333.37" y1="489.11" x2="336.33" y2="489.11" stroke="#231f20" stroke-width="1.4"/><rect x="340" y="473.35" width="5.7" height="28.15" fill="#e18e1a"/><line x1="342.85" y1="473.35" x2="342.85" y2="465.84" stroke="#231f20" stroke-width="1.1"/><line x1="341.37" y1="465.84" x2="344.33" y2="465.84" stroke="#231f20" stroke-width="1.4"/><line x1="267" y1="442.5" x2="267" y2="502.2" stroke="#231f20" stroke-width="1.5"/><line x1="266.3" y1="501.5" x2="347" y2="501.5" stroke="#231f20" stroke-width="1.5"/><line x1="264" y1="501.5" x2="267" y2="501.5" stroke="#231f20" stroke-width="1"/><text transform="translate(260.7 503.65) scale(1 1)" font-size="6.4" text-anchor="end" fill="#2c2c2c" font-family="Liberation Sans" stroke="#2c2c2c" stroke-width="0.18">0.000</text><line x1="264" y1="482.73" x2="267" y2="482.73" stroke="#231f20" stroke-width="1"/><text transform="translate(260.7 484.88) scale(1 1)" font-size="6.4" text-anchor="end" fill="#2c2c2c" font-family="Liberation Sans" stroke="#2c2c2c" stroke-width="0.18">0.005</text><line x1="264" y1="463.97" x2="267" y2="463.97" stroke="#231f20" stroke-width="1"/><text transform="translate(260.7 466.12) scale(1 1)" font-size="6.4" text-anchor="end" fill="#2c2c2c" font-family="Liberation Sans" stroke="#2c2c2c" stroke-width="0.18">0.010</text><line x1="264" y1="445.2" x2="267" y2="445.2" stroke="#231f20" stroke-width="1"/><text transform="translate(260.7 447.35) scale(1 1)" font-size="6.4" text-anchor="end" fill="#2c2c2c" font-family="Liberation Sans" stroke="#2c2c2c" stroke-width="0.18">0.015</text><text x="307.5" y="437.5" font-size="7.6" text-anchor="middle" font-weight="bold" font-style="italic" fill="#1a1a1a" font-family="Liberation Sans" stroke="#1a1a1a" stroke-width="0.25">Nrarp</text><text x="326.6" y="487.5" font-size="5.2" text-anchor="middle" font-weight="normal" font-style="normal" fill="#222" font-family="Liberation Sans" >*</text><rect x="371.25" y="450.2" width="6.2" height="51.3" fill="#d79c8e"/><line x1="374.35" y1="450.2" x2="374.35" y2="447.77" stroke="#231f20" stroke-width="1.1"/><line x1="372.74" y1="447.77" x2="375.96" y2="447.77" stroke="#231f20" stroke-width="1.4"/><rect x="379.5" y="451.49" width="6.2" height="50.01" fill="#b3132f"/><line x1="382.6" y1="451.49" x2="382.6" y2="446.48" stroke="#231f20" stroke-width="1.1"/><line x1="380.99" y1="446.48" x2="384.21" y2="446.48" stroke="#231f20" stroke-width="1.4"/><rect x="387.5" y="488.96" width="6.2" height="12.54" fill="#9599c4"/><line x1="390.6" y1="488.96" x2="390.6" y2="485.77" stroke="#231f20" stroke-width="1.1"/><line x1="388.99" y1="485.77" x2="392.21" y2="485.77" stroke="#231f20" stroke-width="1.4"/><rect x="395.5" y="489.72" width="6.2" height="11.78" fill="#2d4b86"/><line x1="398.6" y1="489.72" x2="398.6" y2="487.74" stroke="#231f20" stroke-width="1.1"/><line x1="396.99" y1="487.74" x2="400.21" y2="487.74" stroke="#231f20" stroke-width="1.4"/><rect x="403.75" y="492.23" width="6.2" height="9.27" fill="#bfd9a2"/><line x1="406.85" y1="492.23" x2="406.85" y2="490.78" stroke="#231f20" stroke-width="1.1"/><line x1="405.24" y1="490.78" x2="408.46" y2="490.78" stroke="#231f20" stroke-width="1.4"/><rect x="411.25" y="493.52" width="6.2" height="7.98" fill="#62a544"/><line x1="414.35" y1="493.52" x2="414.35" y2="492.76" stroke="#231f20" stroke-width="1.1"/><line x1="412.74" y1="492.76" x2="415.96" y2="492.76" stroke="#231f20" stroke-width="1.4"/><rect x="419.5" y="498.23" width="6.2" height="3.27" fill="#9d87b6"/><line x1="422.6" y1="498.23" x2="422.6" y2="497.55" stroke="#231f20" stroke-width="1.1"/><line x1="420.99" y1="497.55" x2="424.21" y2="497.55" stroke="#231f20" stroke-width="1.4"/><rect x="427.5" y="498.46" width="6.2" height="3.04" fill="#4f2468"/><line x1="430.6" y1="498.46" x2="430.6" y2="497.85" stroke="#231f20" stroke-width="1.1"/><line x1="428.99" y1="497.85" x2="432.21" y2="497.85" stroke="#231f20" stroke-width="1.4"/><rect x="435.75" y="499.98" width="6.2" height="1.52" fill="#f2ca92"/><line x1="438.85" y1="499.98" x2="438.85" y2="499.37" stroke="#231f20" stroke-width="1.1"/><line x1="437.24" y1="499.37" x2="440.46" y2="499.37" stroke="#231f20" stroke-width="1.4"/><rect x="443.25" y="499.98" width="6.2" height="1.52" fill="#e18e1a"/><line x1="446.35" y1="499.98" x2="446.35" y2="499.37" stroke="#231f20" stroke-width="1.1"/><line x1="444.74" y1="499.37" x2="447.96" y2="499.37" stroke="#231f20" stroke-width="1.4"/><line x1="370.6" y1="438" x2="370.6" y2="502.2" stroke="#231f20" stroke-width="1.5"/><line x1="369.9" y1="501.5" x2="450" y2="501.5" stroke="#231f20" stroke-width="1.5"/><line x1="367.6" y1="501.5" x2="370.6" y2="501.5" stroke="#231f20" stroke-width="1"/><text transform="translate(364.3 503.65) scale(1 1)" font-size="6.4" text-anchor="end" fill="#2c2c2c" font-family="Liberation Sans" stroke="#2c2c2c" stroke-width="0.18">0.0</text><line x1="367.6" y1="486.3" x2="370.6" y2="486.3" stroke="#231f20" stroke-width="1"/><text transform="translate(364.3 488.45) scale(1 1)" font-size="6.4" text-anchor="end" fill="#2c2c2c" font-family="Liberation Sans" stroke="#2c2c2c" stroke-width="0.18">0.2</text><line x1="367.6" y1="471.1" x2="370.6" y2="471.1" stroke="#231f20" stroke-width="1"/><text transform="translate(364.3 473.25) scale(1 1)" font-size="6.4" text-anchor="end" fill="#2c2c2c" font-family="Liberation Sans" stroke="#2c2c2c" stroke-width="0.18">0.4</text><line x1="367.6" y1="455.9" x2="370.6" y2="455.9" stroke="#231f20" stroke-width="1"/><text transform="translate(364.3 458.05) scale(1 1)" font-size="6.4" text-anchor="end" fill="#2c2c2c" font-family="Liberation Sans" stroke="#2c2c2c" stroke-width="0.18">0.6</text><line x1="367.6" y1="440.7" x2="370.6" y2="440.7" stroke="#231f20" stroke-width="1"/><text transform="translate(364.3 442.85) scale(1 1)" font-size="6.4" text-anchor="end" fill="#2c2c2c" font-family="Liberation Sans" stroke="#2c2c2c" stroke-width="0.18">0.8</text><text x="410.9" y="432.4" font-size="7.6" text-anchor="middle" font-weight="bold" font-style="normal" fill="#1a1a1a" font-family="Liberation Sans" stroke="#1a1a1a" stroke-width="0.25">Gata3</text><text transform="translate(21.7 471.7) rotate(-90)" font-size="8.6" text-anchor="middle" fill="#3a3a3a" font-family="Liberation Sans" textLength="48.5" lengthAdjust="spacingAndGlyphs">Expression <tspan font-style="italic">/Hprt</tspan></text><rect x="453.6" y="421.4" width="5.6" height="5.6" fill="#d79c8e"/><text transform="translate(461.8 426.4) scale(0.85 1)" font-size="6.2" fill="#3c3c3c" font-family="Liberation Sans">HSC<tspan font-size="4.8" dy="-3.6">Control</tspan></text><rect x="453.6" y="429.96" width="5.6" height="5.6" fill="#b3132f"/><text transform="translate(461.8 434.96) scale(0.85 1)" font-size="6.2" fill="#3c3c3c" font-family="Liberation Sans">HSC<tspan font-size="4.8" dy="-3.6">fl/flCre+/+</tspan></text><rect x="453.6" y="438.52" width="5.6" height="5.6" fill="#9599c4"/><text transform="translate(461.8 443.52) scale(0.85 1)" font-size="6.2" fill="#3c3c3c" font-family="Liberation Sans">PreMegE<tspan font-size="4.8" dy="-3.6">Control</tspan></text><rect x="453.6" y="447.08" width="5.6" height="5.6" fill="#2d4b86"/><text transform="translate(461.8 452.08) scale(0.85 1)" font-size="6.2" fill="#3c3c3c" font-family="Liberation Sans">PreMegE<tspan font-size="4.8" dy="-3.6">fl/flCre+/+</tspan></text><rect x="453.6" y="455.64" width="5.6" height="5.6" fill="#bfd9a2"/><text transform="translate(461.8 460.64) scale(0.85 1)" font-size="6.2" fill="#3c3c3c" font-family="Liberation Sans">MkP<tspan font-size="4.8" dy="-3.6">Control</tspan></text><rect x="453.6" y="464.2" width="5.6" height="5.6" fill="#62a544"/><text transform="translate(461.8 469.2) scale(0.85 1)" font-size="6.2" fill="#3c3c3c" font-family="Liberation Sans">MkP<tspan font-size="4.8" dy="-3.6">fl/flCre+/+</tspan></text><rect x="453.6" y="472.76" width="5.6" height="5.6" fill="#9d87b6"/><text transform="translate(461.8 477.76) scale(0.85 1)" font-size="6.2" fill="#3c3c3c" font-family="Liberation Sans">PreCFU-E<tspan font-size="4.8" dy="-3.6">Control</tspan></text><rect x="453.6" y="481.32" width="5.6" height="5.6" fill="#4f2468"/><text transform="translate(461.8 486.32) scale(0.85 1)" font-size="6.2" fill="#3c3c3c" font-family="Liberation Sans">PreCFU-E<tspan font-size="4.8" dy="-3.6">fl/flCre+/+</tspan></text><rect x="453.6" y="489.88" width="5.6" height="5.6" fill="#f2ca92"/><text transform="translate(461.8 494.88) scale(0.85 1)" font-size="6.2" fill="#3c3c3c" font-family="Liberation Sans">CFU-E<tspan font-size="4.8" dy="-3.6">Control</tspan></text><rect x="453.6" y="498.44" width="5.6" height="5.6" fill="#e18e1a"/><text transform="translate(461.8 503.44) scale(0.85 1)" font-size="6.2" fill="#3c3c3c" font-family="Liberation Sans">CFU-E<tspan font-size="4.8" dy="-3.6">fl/flCre+/+</tspan></text><rect x="0" y="0" width="520" height="1.1" fill="#111"/><rect x="0" y="0" width="1.1" height="512" fill="#111"/><rect x="518.7" y="0" width="1.3" height="512" fill="#111"/><rect x="0" y="510.7" width="520" height="1.3" fill="#111"/></svg>
</body></html>
